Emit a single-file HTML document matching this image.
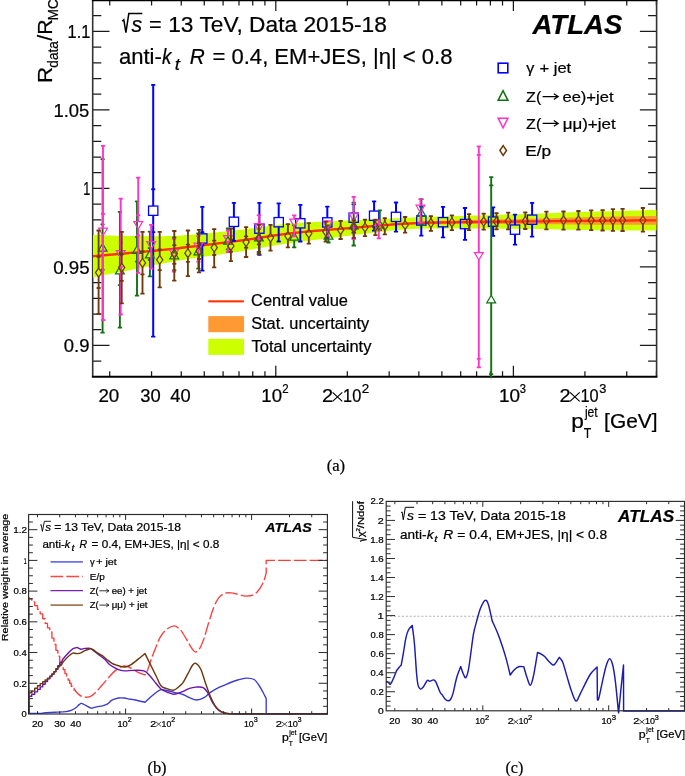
<!DOCTYPE html><html><head><meta charset="utf-8"><style>html,body{margin:0;padding:0;background:#fff;}svg{display:block;font-family:"Liberation Sans",sans-serif;will-change:transform;}text{stroke:#000;stroke-width:0.22px;}</style></head><body>
<svg width="685" height="776" viewBox="0 0 685 776">
<rect width="685" height="776" fill="#fff"/>
<path d="M109.72 376.8v-5.5M109.72 0v5.5M151.56 376.8v-5.5M151.56 0v5.5M181.25 376.8v-5.5M181.25 0v5.5M204.28 376.8v-5.5M204.28 0v5.5M223.09 376.8v-5.5M223.09 0v5.5M239 376.8v-5.5M239 0v5.5M252.77 376.8v-5.5M252.77 0v5.5M264.93 376.8v-5.5M264.93 0v5.5M275.8 376.8v-11M275.8 0v11M347.32 376.8v-5.5M347.32 0v5.5M389.16 376.8v-5.5M389.16 0v5.5M418.85 376.8v-5.5M418.85 0v5.5M441.88 376.8v-5.5M441.88 0v5.5M460.69 376.8v-5.5M460.69 0v5.5M476.6 376.8v-5.5M476.6 0v5.5M490.37 376.8v-5.5M490.37 0v5.5M502.53 376.8v-5.5M502.53 0v5.5M513.4 376.8v-11M513.4 0v11M584.92 376.8v-5.5M584.92 0v5.5M626.76 376.8v-5.5M626.76 0v5.5M656.45 376.8v-5.5M656.45 0v5.5M93 361.1h8.3M656.4 361.1h-8.3M93 345.4h16.5M656.4 345.4h-16.5M93 329.7h8.3M656.4 329.7h-8.3M93 314h8.3M656.4 314h-8.3M93 298.3h8.3M656.4 298.3h-8.3M93 282.6h8.3M656.4 282.6h-8.3M93 266.9h16.5M656.4 266.9h-16.5M93 251.2h8.3M656.4 251.2h-8.3M93 235.5h8.3M656.4 235.5h-8.3M93 219.8h8.3M656.4 219.8h-8.3M93 204.1h8.3M656.4 204.1h-8.3M93 188.4h16.5M656.4 188.4h-16.5M93 172.7h8.3M656.4 172.7h-8.3M93 157h8.3M656.4 157h-8.3M93 141.3h8.3M656.4 141.3h-8.3M93 125.6h8.3M656.4 125.6h-8.3M93 109.9h16.5M656.4 109.9h-16.5M93 94.2h8.3M656.4 94.2h-8.3M93 78.5h8.3M656.4 78.5h-8.3M93 62.8h8.3M656.4 62.8h-8.3M93 47.1h8.3M656.4 47.1h-8.3M93 31.4h16.5M656.4 31.4h-16.5M93 15.7h8.3M656.4 15.7h-8.3" stroke="#1a1a1a" stroke-width="1.25" fill="none"/>
<path d="M92.7 0V376.8 M656.6 0V376.8" stroke="#333" stroke-width="1.6" fill="none"/>
<path d="M91.9 376.8H657.4 M91.9 0.4H657.4" stroke="#000" stroke-width="1.9" fill="none"/>
<clipPath id="ca"><rect x="92.3" y="0" width="564.7" height="375.8"/></clipPath>
<g clip-path="url(#ca)">
<polygon points="93,235 97.69,235.12 102.39,235.24 107.08,235.38 111.78,235.51 116.47,235.65 121.17,235.77 125.86,235.88 130.56,235.98 135.25,236.05 139.95,236.1 144.64,236.14 149.34,236.17 154.03,236.2 158.73,236.2 163.43,236.17 168.12,236.09 172.81,235.95 177.51,235.74 182.2,235.46 186.9,235.12 191.59,234.75 196.29,234.35 200.98,233.93 205.68,233.48 210.38,233 215.07,232.52 219.76,232.01 224.46,231.5 229.16,230.99 233.85,230.47 238.54,229.96 243.24,229.44 247.94,228.87 252.63,228.27 257.32,227.64 262.02,227.01 266.72,226.37 271.41,225.75 276.11,225.15 280.8,224.59 285.5,224.07 290.19,223.62 294.88,223.22 299.58,222.85 304.27,222.53 308.97,222.24 313.66,221.98 318.36,221.74 323.05,221.53 327.75,221.33 332.44,221.14 337.14,220.95 341.83,220.76 346.53,220.56 351.23,220.34 355.92,220.13 360.62,219.93 365.31,219.73 370,219.54 374.7,219.35 379.4,219.15 384.09,218.95 388.78,218.75 393.48,218.53 398.18,218.3 402.87,218.06 407.56,217.82 412.26,217.57 416.95,217.35 421.65,217.15 426.35,216.98 431.04,216.81 435.73,216.66 440.43,216.52 445.12,216.38 449.82,216.25 454.51,216.11 459.21,215.97 463.9,215.83 468.6,215.69 473.3,215.55 477.99,215.41 482.69,215.27 487.38,215.13 492.07,214.99 496.77,214.85 501.46,214.71 506.16,214.57 510.85,214.43 515.55,214.28 520.25,214.14 524.94,213.99 529.63,213.85 534.33,213.7 539.02,213.56 543.72,213.4 548.41,213.24 553.11,213.06 557.81,212.87 562.5,212.68 567.19,212.49 571.89,212.3 576.59,212.12 581.28,211.95 585.98,211.79 590.67,211.64 595.37,211.5 600.06,211.37 604.75,211.25 609.45,211.13 614.14,211.01 618.84,210.89 623.53,210.78 628.23,210.67 632.92,210.56 637.62,210.45 642.32,210.34 647.01,210.23 651.7,210.12 656.4,210 656.4,230.6 651.7,230.56 647.01,230.53 642.32,230.5 637.62,230.47 632.92,230.44 628.23,230.41 623.53,230.37 618.84,230.34 614.14,230.3 609.45,230.27 604.75,230.22 600.06,230.18 595.37,230.13 590.67,230.07 585.98,230 581.28,229.92 576.59,229.83 571.89,229.74 567.19,229.64 562.5,229.53 557.81,229.44 553.11,229.34 548.41,229.25 543.72,229.18 539.02,229.11 534.33,229.05 529.63,229 524.94,228.94 520.25,228.88 515.55,228.83 510.85,228.78 506.16,228.73 501.46,228.68 496.77,228.64 492.07,228.6 487.38,228.57 482.69,228.53 477.99,228.51 473.3,228.48 468.6,228.46 463.9,228.45 459.21,228.44 454.51,228.44 449.82,228.44 445.12,228.44 440.43,228.44 435.73,228.45 431.04,228.48 426.35,228.54 421.65,228.63 416.95,228.78 412.26,228.99 407.56,229.26 402.87,229.59 398.18,229.96 393.48,230.39 388.78,230.87 384.09,231.38 379.4,231.93 374.7,232.5 370,233.08 365.31,233.68 360.62,234.28 355.92,234.87 351.23,235.45 346.53,236.02 341.83,236.59 337.14,237.15 332.44,237.73 327.75,238.3 323.05,238.88 318.36,239.47 313.66,240.06 308.97,240.66 304.27,241.26 299.58,241.88 294.88,242.5 290.19,243.14 285.5,243.81 280.8,244.53 276.11,245.29 271.41,246.07 266.72,246.87 262.02,247.69 257.32,248.5 252.63,249.31 247.94,250.11 243.24,250.88 238.54,251.63 233.85,252.35 229.16,253.05 224.46,253.74 219.76,254.42 215.07,255.1 210.38,255.77 205.68,256.45 200.98,257.13 196.29,257.83 191.59,258.54 186.9,259.28 182.2,260.04 177.51,260.82 172.81,261.66 168.12,262.53 163.43,263.43 158.73,264.36 154.03,265.3 149.34,266.24 144.64,267.18 139.95,268.11 135.25,269.03 130.56,269.95 125.86,270.88 121.17,271.81 116.47,272.74 111.78,273.67 107.08,274.61 102.39,275.54 97.69,276.47 93,277.4" fill="#ccff00"/>
<polygon points="93,255.2 97.69,254.79 102.39,254.39 107.08,253.99 111.78,253.59 116.47,253.19 121.17,252.79 125.86,252.38 130.56,251.96 135.25,251.54 139.95,251.1 144.64,250.66 149.34,250.21 154.03,249.75 158.73,249.28 163.43,248.8 168.12,248.31 172.81,247.81 177.51,247.29 182.2,246.75 186.9,246.21 191.59,245.66 196.29,245.1 200.98,244.54 205.68,243.98 210.38,243.4 215.07,242.82 219.76,242.23 224.46,241.64 229.16,241.04 233.85,240.43 238.54,239.81 243.24,239.18 247.94,238.51 252.63,237.81 257.32,237.1 262.02,236.37 266.72,235.65 271.41,234.93 276.11,234.24 280.8,233.58 285.5,232.97 290.19,232.4 294.88,231.88 299.58,231.38 304.27,230.91 308.97,230.46 313.66,230.03 318.36,229.62 323.05,229.21 327.75,228.82 332.44,228.43 337.14,228.05 341.83,227.66 346.53,227.27 351.23,226.88 355.92,226.48 360.62,226.08 365.31,225.67 370,225.27 374.7,224.87 379.4,224.48 384.09,224.1 388.78,223.73 393.48,223.37 398.18,223.04 402.87,222.71 407.56,222.39 412.26,222.09 416.95,221.81 421.65,221.56 426.35,221.34 431.04,221.15 435.73,220.98 440.43,220.82 445.12,220.68 449.82,220.55 454.51,220.42 459.21,220.3 463.9,220.18 468.6,220.07 473.3,219.96 477.99,219.85 482.69,219.75 487.38,219.65 492.07,219.55 496.77,219.45 501.46,219.35 506.16,219.26 510.85,219.16 515.55,219.06 520.25,218.97 524.94,218.87 529.63,218.76 534.33,218.66 539.02,218.55 543.72,218.43 548.41,218.3 553.11,218.16 557.81,218.01 562.5,217.86 567.19,217.71 571.89,217.56 576.59,217.42 581.28,217.28 585.98,217.16 590.67,217.05 595.37,216.94 600.06,216.85 604.75,216.76 609.45,216.67 614.14,216.59 618.84,216.51 623.53,216.44 628.23,216.36 632.92,216.29 637.62,216.21 642.32,216.14 647.01,216.06 651.7,215.98 656.4,215.9 656.4,224.7 651.7,224.7 647.01,224.7 642.32,224.7 637.62,224.71 632.92,224.71 628.23,224.72 623.53,224.72 618.84,224.72 614.14,224.72 609.45,224.72 604.75,224.71 600.06,224.7 595.37,224.68 590.67,224.66 585.98,224.63 581.28,224.59 576.59,224.54 571.89,224.48 567.19,224.42 562.5,224.35 557.81,224.29 553.11,224.24 548.41,224.19 543.72,224.15 539.02,224.12 534.33,224.1 529.63,224.08 524.94,224.07 520.25,224.06 515.55,224.05 510.85,224.04 506.16,224.04 501.46,224.04 496.77,224.04 492.07,224.04 487.38,224.05 482.69,224.05 477.99,224.06 473.3,224.07 468.6,224.09 463.9,224.1 459.21,224.11 454.51,224.13 449.82,224.14 445.12,224.15 440.43,224.14 435.73,224.13 431.04,224.14 426.35,224.17 421.65,224.23 416.95,224.32 412.26,224.47 407.56,224.68 402.87,224.93 398.18,225.23 393.48,225.55 388.78,225.88 384.09,226.23 379.4,226.6 374.7,226.97 370,227.36 365.31,227.74 360.62,228.14 355.92,228.53 351.23,228.92 346.53,229.3 341.83,229.68 337.14,230.05 332.44,230.43 327.75,230.81 323.05,231.2 318.36,231.6 313.66,232.01 308.97,232.43 304.27,232.88 299.58,233.34 294.88,233.84 290.19,234.36 285.5,234.92 280.8,235.54 276.11,236.19 271.41,236.88 266.72,237.6 262.02,238.32 257.32,239.05 252.63,239.77 247.94,240.47 243.24,241.14 238.54,241.77 233.85,242.39 229.16,243 224.46,243.6 219.76,244.2 215.07,244.79 210.38,245.37 205.68,245.95 200.98,246.52 196.29,247.08 191.59,247.64 186.9,248.19 182.2,248.74 177.51,249.28 172.81,249.8 168.12,250.31 163.43,250.8 158.73,251.28 154.03,251.75 149.34,252.21 144.64,252.66 139.95,253.11 135.25,253.55 130.56,253.97 125.86,254.39 121.17,254.79 116.47,255.2 111.78,255.6 107.08,256 102.39,256.39 97.69,256.79 93,257.2" fill="#ff9933"/>
<polyline points="93,256.2 97.69,255.79 102.39,255.39 107.08,254.99 111.78,254.59 116.47,254.19 121.17,253.79 125.86,253.38 130.56,252.97 135.25,252.54 139.95,252.1 144.64,251.66 149.34,251.21 154.03,250.75 158.73,250.28 163.43,249.8 168.12,249.31 172.81,248.81 177.51,248.28 182.2,247.75 186.9,247.2 191.59,246.65 196.29,246.09 200.98,245.53 205.68,244.96 210.38,244.39 215.07,243.81 219.76,243.22 224.46,242.62 229.16,242.02 233.85,241.41 238.54,240.79 243.24,240.16 247.94,239.49 252.63,238.79 257.32,238.07 262.02,237.35 266.72,236.62 271.41,235.91 276.11,235.22 280.8,234.56 285.5,233.94 290.19,233.38 294.88,232.86 299.58,232.36 304.27,231.89 308.97,231.45 313.66,231.02 318.36,230.61 323.05,230.21 327.75,229.82 332.44,229.43 337.14,229.05 341.83,228.67 346.53,228.29 351.23,227.9 355.92,227.5 360.62,227.11 365.31,226.71 370,226.31 374.7,225.92 379.4,225.54 384.09,225.17 388.78,224.81 393.48,224.46 398.18,224.13 402.87,223.82 407.56,223.54 412.26,223.28 416.95,223.07 421.65,222.89 426.35,222.76 431.04,222.64 435.73,222.56 440.43,222.48 445.12,222.41 449.82,222.35 454.51,222.28 459.21,222.21 463.9,222.14 468.6,222.08 473.3,222.02 477.99,221.96 482.69,221.9 487.38,221.85 492.07,221.8 496.77,221.75 501.46,221.7 506.16,221.65 510.85,221.6 515.55,221.56 520.25,221.51 524.94,221.47 529.63,221.42 534.33,221.38 539.02,221.33 543.72,221.29 548.41,221.24 553.11,221.2 557.81,221.15 562.5,221.11 567.19,221.06 571.89,221.02 576.59,220.98 581.28,220.94 585.98,220.9 590.67,220.85 595.37,220.81 600.06,220.77 604.75,220.73 609.45,220.7 614.14,220.66 618.84,220.62 623.53,220.58 628.23,220.54 632.92,220.5 637.62,220.46 642.32,220.42 647.01,220.38 651.7,220.34 656.4,220.3" fill="none" stroke="#ff3300" stroke-width="2.3"/>
</g>
<clipPath id="ca2"><rect x="93.0" y="0.0" width="563.4" height="378.2"/></clipPath>
<g clip-path="url(#ca2)">
<g stroke="#0000ff" stroke-width="2.0"><line x1="153.2" y1="84.6" x2="153.2" y2="206.05"/><line x1="153.2" y1="215.35" x2="153.2" y2="337"/></g><g fill="#0000ff"><rect x="151.05" y="84" width="4.3" height="1.8" rx="0.5"/><rect x="151.05" y="335.8" width="4.3" height="1.8" rx="0.5"/><rect x="151.1" y="188.36" width="4.2" height="1.8" rx="0.6"/><rect x="151.1" y="231.27" width="4.2" height="1.8" rx="0.6"/></g>
<rect x="148.55" y="206.05" width="9.3" height="9.3" fill="none" stroke="#0000ff" stroke-width="1.3"/>
<g stroke="#0000ff" stroke-width="2.0"><line x1="202.3" y1="206.6" x2="202.3" y2="233.85"/><line x1="202.3" y1="243.15" x2="202.3" y2="270.9"/></g><g fill="#0000ff"><rect x="200.15" y="206" width="4.3" height="1.8" rx="0.5"/><rect x="200.15" y="269.7" width="4.3" height="1.8" rx="0.5"/><rect x="200.2" y="231.22" width="4.2" height="1.8" rx="0.6"/><rect x="200.2" y="244.08" width="4.2" height="1.8" rx="0.6"/></g>
<rect x="197.65" y="233.85" width="9.3" height="9.3" fill="none" stroke="#0000ff" stroke-width="1.3"/>
<g stroke="#0000ff" stroke-width="2.0"><line x1="233.9" y1="202.5" x2="233.9" y2="217.15"/><line x1="233.9" y1="226.45" x2="233.9" y2="241.2"/></g><g fill="#0000ff"><rect x="231.75" y="201.9" width="4.3" height="1.8" rx="0.5"/><rect x="231.75" y="240" width="4.3" height="1.8" rx="0.5"/></g>
<rect x="229.25" y="217.15" width="9.3" height="9.3" fill="none" stroke="#0000ff" stroke-width="1.3"/>
<g stroke="#0000ff" stroke-width="2.0"><line x1="259.4" y1="202.5" x2="259.4" y2="223.95"/><line x1="259.4" y1="233.25" x2="259.4" y2="255.1"/></g><g fill="#0000ff"><rect x="257.25" y="201.9" width="4.3" height="1.8" rx="0.5"/><rect x="257.25" y="253.9" width="4.3" height="1.8" rx="0.5"/></g>
<rect x="254.75" y="223.95" width="9.3" height="9.3" fill="none" stroke="#0000ff" stroke-width="1.3"/>
<g stroke="#0000ff" stroke-width="2.0"><line x1="278.7" y1="203.1" x2="278.7" y2="217.55"/><line x1="278.7" y1="226.85" x2="278.7" y2="241.8"/></g><g fill="#0000ff"><rect x="276.55" y="202.5" width="4.3" height="1.8" rx="0.5"/><rect x="276.55" y="240.6" width="4.3" height="1.8" rx="0.5"/></g>
<rect x="274.05" y="217.55" width="9.3" height="9.3" fill="none" stroke="#0000ff" stroke-width="1.3"/>
<g stroke="#0000ff" stroke-width="2.0"><line x1="300.3" y1="204.6" x2="300.3" y2="218.65"/><line x1="300.3" y1="227.95" x2="300.3" y2="241.8"/></g><g fill="#0000ff"><rect x="298.15" y="204" width="4.3" height="1.8" rx="0.5"/><rect x="298.15" y="240.6" width="4.3" height="1.8" rx="0.5"/></g>
<rect x="295.65" y="218.65" width="9.3" height="9.3" fill="none" stroke="#0000ff" stroke-width="1.3"/>
<g stroke="#0000ff" stroke-width="2.0"><line x1="327.3" y1="206.4" x2="327.3" y2="217.75"/><line x1="327.3" y1="227.05" x2="327.3" y2="238.2"/></g><g fill="#0000ff"><rect x="325.15" y="205.8" width="4.3" height="1.8" rx="0.5"/><rect x="325.15" y="237" width="4.3" height="1.8" rx="0.5"/></g>
<rect x="322.65" y="217.75" width="9.3" height="9.3" fill="none" stroke="#0000ff" stroke-width="1.3"/>
<g stroke="#0000ff" stroke-width="2.0"><line x1="353.7" y1="204" x2="353.7" y2="213.05"/><line x1="353.7" y1="222.35" x2="353.7" y2="233"/></g><g fill="#0000ff"><rect x="351.55" y="203.4" width="4.3" height="1.8" rx="0.5"/><rect x="351.55" y="231.8" width="4.3" height="1.8" rx="0.5"/></g>
<rect x="349.05" y="213.05" width="9.3" height="9.3" fill="none" stroke="#0000ff" stroke-width="1.3"/>
<g stroke="#0000ff" stroke-width="2.0"><line x1="374.1" y1="201.1" x2="374.1" y2="211.05"/><line x1="374.1" y1="220.35" x2="374.1" y2="231"/></g><g fill="#0000ff"><rect x="371.95" y="200.5" width="4.3" height="1.8" rx="0.5"/><rect x="371.95" y="229.8" width="4.3" height="1.8" rx="0.5"/></g>
<rect x="369.45" y="211.05" width="9.3" height="9.3" fill="none" stroke="#0000ff" stroke-width="1.3"/>
<g stroke="#0000ff" stroke-width="2.0"><line x1="396" y1="202.2" x2="396" y2="212.25"/><line x1="396" y1="221.55" x2="396" y2="232"/></g><g fill="#0000ff"><rect x="393.85" y="201.6" width="4.3" height="1.8" rx="0.5"/><rect x="393.85" y="230.8" width="4.3" height="1.8" rx="0.5"/></g>
<rect x="391.35" y="212.25" width="9.3" height="9.3" fill="none" stroke="#0000ff" stroke-width="1.3"/>
<g stroke="#0000ff" stroke-width="2.0"><line x1="421.3" y1="206.2" x2="421.3" y2="215.85"/><line x1="421.3" y1="225.15" x2="421.3" y2="236"/></g><g fill="#0000ff"><rect x="419.15" y="205.6" width="4.3" height="1.8" rx="0.5"/><rect x="419.15" y="234.8" width="4.3" height="1.8" rx="0.5"/></g>
<rect x="416.65" y="215.85" width="9.3" height="9.3" fill="none" stroke="#0000ff" stroke-width="1.3"/>
<g stroke="#0000ff" stroke-width="2.0"><line x1="443" y1="206.6" x2="443" y2="217.55"/><line x1="443" y1="226.85" x2="443" y2="237.7"/></g><g fill="#0000ff"><rect x="440.85" y="206" width="4.3" height="1.8" rx="0.5"/><rect x="440.85" y="236.5" width="4.3" height="1.8" rx="0.5"/></g>
<rect x="438.35" y="217.55" width="9.3" height="9.3" fill="none" stroke="#0000ff" stroke-width="1.3"/>
<g stroke="#0000ff" stroke-width="2.0"><line x1="465" y1="207.7" x2="465" y2="219.45"/><line x1="465" y1="228.75" x2="465" y2="240.1"/></g><g fill="#0000ff"><rect x="462.85" y="207.1" width="4.3" height="1.8" rx="0.5"/><rect x="462.85" y="238.9" width="4.3" height="1.8" rx="0.5"/></g>
<rect x="460.35" y="219.45" width="9.3" height="9.3" fill="none" stroke="#0000ff" stroke-width="1.3"/>
<g stroke="#0000ff" stroke-width="2.0"><line x1="493.1" y1="207" x2="493.1" y2="216.95"/><line x1="493.1" y1="226.25" x2="493.1" y2="236.2"/></g><g fill="#0000ff"><rect x="490.95" y="206.4" width="4.3" height="1.8" rx="0.5"/><rect x="490.95" y="235" width="4.3" height="1.8" rx="0.5"/></g>
<rect x="488.45" y="216.95" width="9.3" height="9.3" fill="none" stroke="#0000ff" stroke-width="1.3"/>
<g stroke="#0000ff" stroke-width="2.0"><line x1="515" y1="214.3" x2="515" y2="224.95"/><line x1="515" y1="234.25" x2="515" y2="245"/></g><g fill="#0000ff"><rect x="512.85" y="213.7" width="4.3" height="1.8" rx="0.5"/><rect x="512.85" y="243.8" width="4.3" height="1.8" rx="0.5"/></g>
<rect x="510.35" y="224.95" width="9.3" height="9.3" fill="none" stroke="#0000ff" stroke-width="1.3"/>
<g stroke="#0000ff" stroke-width="2.0"><line x1="532.1" y1="202.6" x2="532.1" y2="215.05"/><line x1="532.1" y1="224.35" x2="532.1" y2="236.9"/></g><g fill="#0000ff"><rect x="529.95" y="202" width="4.3" height="1.8" rx="0.5"/><rect x="529.95" y="235.7" width="4.3" height="1.8" rx="0.5"/></g>
<rect x="527.45" y="215.05" width="9.3" height="9.3" fill="none" stroke="#0000ff" stroke-width="1.3"/>
<g stroke="#127212" stroke-width="1.9"><line x1="102.6" y1="158.9" x2="102.6" y2="243.5"/><line x1="102.6" y1="251.1" x2="102.6" y2="333"/></g><g fill="#127212"><rect x="100.45" y="158.3" width="4.3" height="1.8" rx="0.5"/><rect x="100.45" y="331.8" width="4.3" height="1.8" rx="0.5"/><rect x="100.5" y="223.42" width="4.2" height="1.8" rx="0.6"/><rect x="100.5" y="268.68" width="4.2" height="1.8" rx="0.6"/></g>
<polygon points="102.6,243.5 107,251.1 98.2,251.1" fill="none" stroke="#127212" stroke-width="1.25" stroke-linejoin="miter"/>
<g stroke="#127212" stroke-width="1.9"><line x1="119.9" y1="211.6" x2="119.9" y2="266.2"/><line x1="119.9" y1="273.8" x2="119.9" y2="328"/></g><g fill="#127212"><rect x="117.75" y="211" width="4.3" height="1.8" rx="0.5"/><rect x="117.75" y="326.8" width="4.3" height="1.8" rx="0.5"/><rect x="117.8" y="253.92" width="4.2" height="1.8" rx="0.6"/><rect x="117.8" y="284.18" width="4.2" height="1.8" rx="0.6"/></g>
<polygon points="119.9,266.2 124.3,273.8 115.5,273.8" fill="none" stroke="#127212" stroke-width="1.25" stroke-linejoin="miter"/>
<g stroke="#127212" stroke-width="1.9"><line x1="137" y1="201" x2="137" y2="245.8"/><line x1="137" y1="253.4" x2="137" y2="296"/></g><g fill="#127212"><rect x="134.85" y="200.4" width="4.3" height="1.8" rx="0.5"/><rect x="134.85" y="294.8" width="4.3" height="1.8" rx="0.5"/><rect x="134.9" y="236.06" width="4.2" height="1.8" rx="0.6"/><rect x="134.9" y="260.76" width="4.2" height="1.8" rx="0.6"/></g>
<polygon points="137,245.8 141.4,253.4 132.6,253.4" fill="none" stroke="#127212" stroke-width="1.25" stroke-linejoin="miter"/>
<g stroke="#127212" stroke-width="1.9"><line x1="149.9" y1="231.4" x2="149.9" y2="250.2"/><line x1="149.9" y1="257.8" x2="149.9" y2="276.6"/></g><g fill="#127212"><rect x="147.75" y="230.8" width="4.3" height="1.8" rx="0.5"/><rect x="147.75" y="275.4" width="4.3" height="1.8" rx="0.5"/><rect x="147.8" y="247.22" width="4.2" height="1.8" rx="0.6"/><rect x="147.8" y="258.98" width="4.2" height="1.8" rx="0.6"/></g>
<polygon points="149.9,250.2 154.3,257.8 145.5,257.8" fill="none" stroke="#127212" stroke-width="1.25" stroke-linejoin="miter"/>
<g stroke="#127212" stroke-width="1.9"><line x1="174.2" y1="237" x2="174.2" y2="251.2"/><line x1="174.2" y1="258.8" x2="174.2" y2="270.4"/></g><g fill="#127212"><rect x="172.05" y="236.4" width="4.3" height="1.8" rx="0.5"/><rect x="172.05" y="269.2" width="4.3" height="1.8" rx="0.5"/></g>
<polygon points="174.2,251.2 178.6,258.8 169.8,258.8" fill="none" stroke="#127212" stroke-width="1.25" stroke-linejoin="miter"/>
<g stroke="#127212" stroke-width="1.9"><line x1="198.4" y1="233" x2="198.4" y2="247.2"/><line x1="198.4" y1="254.8" x2="198.4" y2="269"/></g><g fill="#127212"><rect x="196.25" y="232.4" width="4.3" height="1.8" rx="0.5"/><rect x="196.25" y="267.8" width="4.3" height="1.8" rx="0.5"/></g>
<polygon points="198.4,247.2 202.8,254.8 194,254.8" fill="none" stroke="#127212" stroke-width="1.25" stroke-linejoin="miter"/>
<g stroke="#127212" stroke-width="1.9"><line x1="228" y1="228.2" x2="228" y2="236.6"/><line x1="228" y1="244.2" x2="228" y2="249.6"/></g><g fill="#127212"><rect x="225.85" y="227.6" width="4.3" height="1.8" rx="0.5"/><rect x="225.85" y="248.4" width="4.3" height="1.8" rx="0.5"/></g>
<polygon points="228,236.6 232.4,244.2 223.6,244.2" fill="none" stroke="#127212" stroke-width="1.25" stroke-linejoin="miter"/>
<g stroke="#127212" stroke-width="1.9"><line x1="258.9" y1="228.8" x2="258.9" y2="233.2"/><line x1="258.9" y1="240.8" x2="258.9" y2="252.3"/></g><g fill="#127212"><rect x="256.75" y="228.2" width="4.3" height="1.8" rx="0.5"/><rect x="256.75" y="251.1" width="4.3" height="1.8" rx="0.5"/></g>
<polygon points="258.9,233.2 263.3,240.8 254.5,240.8" fill="none" stroke="#127212" stroke-width="1.25" stroke-linejoin="miter"/>
<g stroke="#127212" stroke-width="1.9"><line x1="294.2" y1="225" x2="294.2" y2="232.6"/><line x1="294.2" y1="240.2" x2="294.2" y2="247.7"/></g><g fill="#127212"><rect x="292.05" y="224.4" width="4.3" height="1.8" rx="0.5"/><rect x="292.05" y="246.5" width="4.3" height="1.8" rx="0.5"/></g>
<polygon points="294.2,232.6 298.6,240.2 289.8,240.2" fill="none" stroke="#127212" stroke-width="1.25" stroke-linejoin="miter"/>
<g stroke="#127212" stroke-width="1.9"><line x1="328.5" y1="225" x2="328.5" y2="231.5"/><line x1="328.5" y1="239.1" x2="328.5" y2="242.8"/></g><g fill="#127212"><rect x="326.35" y="224.4" width="4.3" height="1.8" rx="0.5"/><rect x="326.35" y="241.6" width="4.3" height="1.8" rx="0.5"/></g>
<polygon points="328.5,231.5 332.9,239.1 324.1,239.1" fill="none" stroke="#127212" stroke-width="1.25" stroke-linejoin="miter"/>
<g stroke="#127212" stroke-width="1.9"><line x1="353.7" y1="202.4" x2="353.7" y2="221.2"/><line x1="353.7" y1="228.8" x2="353.7" y2="245.8"/></g><g fill="#127212"><rect x="351.55" y="201.8" width="4.3" height="1.8" rx="0.5"/><rect x="351.55" y="244.6" width="4.3" height="1.8" rx="0.5"/><rect x="351.6" y="218.22" width="4.2" height="1.8" rx="0.6"/><rect x="351.6" y="229.51" width="4.2" height="1.8" rx="0.6"/></g>
<polygon points="353.7,221.2 358.1,228.8 349.3,228.8" fill="none" stroke="#127212" stroke-width="1.25" stroke-linejoin="miter"/>
<g stroke="#127212" stroke-width="1.9"><line x1="379.8" y1="210.1" x2="379.8" y2="220.6"/><line x1="379.8" y1="228.2" x2="379.8" y2="230.3"/></g><g fill="#127212"><rect x="377.65" y="209.5" width="4.3" height="1.8" rx="0.5"/><rect x="377.65" y="229.1" width="4.3" height="1.8" rx="0.5"/></g>
<polygon points="379.8,220.6 384.2,228.2 375.4,228.2" fill="none" stroke="#127212" stroke-width="1.25" stroke-linejoin="miter"/>
<g stroke="#127212" stroke-width="1.9"><line x1="421.4" y1="198.8" x2="421.4" y2="208.7"/><line x1="421.4" y1="216.3" x2="421.4" y2="225"/></g><g fill="#127212"><rect x="419.25" y="198.2" width="4.3" height="1.8" rx="0.5"/><rect x="419.25" y="223.8" width="4.3" height="1.8" rx="0.5"/></g>
<polygon points="421.4,208.7 425.8,216.3 417,216.3" fill="none" stroke="#127212" stroke-width="1.25" stroke-linejoin="miter"/>
<g stroke="#127212" stroke-width="1.9"><line x1="491.2" y1="176.9" x2="491.2" y2="295.2"/><line x1="491.2" y1="302.8" x2="491.2" y2="379.8"/></g><g fill="#127212"><rect x="489.05" y="176.3" width="4.3" height="1.8" rx="0.5"/><rect x="489.1" y="184.55" width="4.2" height="1.8" rx="0.6"/><rect x="489.1" y="373.24" width="4.2" height="1.8" rx="0.6"/></g>
<polygon points="491.2,295.2 495.6,302.8 486.8,302.8" fill="none" stroke="#127212" stroke-width="1.25" stroke-linejoin="miter"/>
<g stroke="#ff33cc" stroke-width="1.9"><line x1="103" y1="145.5" x2="103" y2="228.2"/><line x1="103" y1="235.8" x2="103" y2="320.3"/></g><g fill="#ff33cc"><rect x="100.85" y="144.9" width="4.3" height="1.8" rx="0.5"/><rect x="100.85" y="319.1" width="4.3" height="1.8" rx="0.5"/><rect x="100.9" y="212.94" width="4.2" height="1.8" rx="0.6"/><rect x="100.9" y="249.64" width="4.2" height="1.8" rx="0.6"/></g>
<polygon points="103,235.8 107.4,228.2 98.6,228.2" fill="none" stroke="#ff33cc" stroke-width="1.25" stroke-linejoin="miter"/>
<g stroke="#ff33cc" stroke-width="1.9"><line x1="120.7" y1="198.3" x2="120.7" y2="250.5"/><line x1="120.7" y1="258.1" x2="120.7" y2="314.8"/></g><g fill="#ff33cc"><rect x="118.55" y="197.7" width="4.3" height="1.8" rx="0.5"/><rect x="118.55" y="313.6" width="4.3" height="1.8" rx="0.5"/><rect x="118.6" y="241.64" width="4.2" height="1.8" rx="0.6"/><rect x="118.6" y="266.11" width="4.2" height="1.8" rx="0.6"/></g>
<polygon points="120.7,258.1 125.1,250.5 116.3,250.5" fill="none" stroke="#ff33cc" stroke-width="1.25" stroke-linejoin="miter"/>
<g stroke="#ff33cc" stroke-width="1.9"><line x1="138.2" y1="177.4" x2="138.2" y2="221.5"/><line x1="138.2" y1="229.1" x2="138.2" y2="273.1"/></g><g fill="#ff33cc"><rect x="136.05" y="176.8" width="4.3" height="1.8" rx="0.5"/><rect x="136.05" y="271.9" width="4.3" height="1.8" rx="0.5"/><rect x="136.1" y="214.34" width="4.2" height="1.8" rx="0.6"/><rect x="136.1" y="234.44" width="4.2" height="1.8" rx="0.6"/></g>
<polygon points="138.2,229.1 142.6,221.5 133.8,221.5" fill="none" stroke="#ff33cc" stroke-width="1.25" stroke-linejoin="miter"/>
<g stroke="#ff33cc" stroke-width="1.9"><line x1="151.2" y1="224.6" x2="151.2" y2="241.6"/><line x1="151.2" y1="249.2" x2="151.2" y2="269"/></g><g fill="#ff33cc"><rect x="149.05" y="224" width="4.3" height="1.8" rx="0.5"/><rect x="149.05" y="267.8" width="4.3" height="1.8" rx="0.5"/></g>
<polygon points="151.2,249.2 155.6,241.6 146.8,241.6" fill="none" stroke="#ff33cc" stroke-width="1.25" stroke-linejoin="miter"/>
<g stroke="#ff33cc" stroke-width="1.9"><line x1="174" y1="238.5" x2="174" y2="249.7"/><line x1="174" y1="257.3" x2="174" y2="271.8"/></g><g fill="#ff33cc"><rect x="171.85" y="237.9" width="4.3" height="1.8" rx="0.5"/><rect x="171.85" y="270.6" width="4.3" height="1.8" rx="0.5"/></g>
<polygon points="174,257.3 178.4,249.7 169.6,249.7" fill="none" stroke="#ff33cc" stroke-width="1.25" stroke-linejoin="miter"/>
<g stroke="#ff33cc" stroke-width="1.9"><line x1="198.4" y1="235.7" x2="198.4" y2="243.2"/><line x1="198.4" y1="250.8" x2="198.4" y2="262"/></g><g fill="#ff33cc"><rect x="196.25" y="235.1" width="4.3" height="1.8" rx="0.5"/><rect x="196.25" y="260.8" width="4.3" height="1.8" rx="0.5"/></g>
<polygon points="198.4,250.8 202.8,243.2 194,243.2" fill="none" stroke="#ff33cc" stroke-width="1.25" stroke-linejoin="miter"/>
<g stroke="#ff33cc" stroke-width="1.9"><line x1="228" y1="230.2" x2="228" y2="235.5"/><line x1="228" y1="243.1" x2="228" y2="252.3"/></g><g fill="#ff33cc"><rect x="225.85" y="229.6" width="4.3" height="1.8" rx="0.5"/><rect x="225.85" y="251.1" width="4.3" height="1.8" rx="0.5"/></g>
<polygon points="228,243.1 232.4,235.5 223.6,235.5" fill="none" stroke="#ff33cc" stroke-width="1.25" stroke-linejoin="miter"/>
<g stroke="#ff33cc" stroke-width="1.9"><line x1="258.9" y1="214.9" x2="258.9" y2="223.6"/><line x1="258.9" y1="231.2" x2="258.9" y2="239.9"/></g><g fill="#ff33cc"><rect x="256.75" y="214.3" width="4.3" height="1.8" rx="0.5"/><rect x="256.75" y="238.7" width="4.3" height="1.8" rx="0.5"/></g>
<polygon points="258.9,231.2 263.3,223.6 254.5,223.6" fill="none" stroke="#ff33cc" stroke-width="1.25" stroke-linejoin="miter"/>
<g stroke="#ff33cc" stroke-width="1.9"><line x1="294.2" y1="215.1" x2="294.2" y2="219"/><line x1="294.2" y1="226.6" x2="294.2" y2="236.7"/></g><g fill="#ff33cc"><rect x="292.05" y="214.5" width="4.3" height="1.8" rx="0.5"/><rect x="292.05" y="235.5" width="4.3" height="1.8" rx="0.5"/></g>
<polygon points="294.2,226.6 298.6,219 289.8,219" fill="none" stroke="#ff33cc" stroke-width="1.25" stroke-linejoin="miter"/>
<g stroke="#ff33cc" stroke-width="1.9"><line x1="327.7" y1="221" x2="327.7" y2="221.2"/><line x1="327.7" y1="228.8" x2="327.7" y2="236.7"/></g><g fill="#ff33cc"><rect x="325.55" y="220.4" width="4.3" height="1.8" rx="0.5"/><rect x="325.55" y="235.5" width="4.3" height="1.8" rx="0.5"/></g>
<polygon points="327.7,228.8 332.1,221.2 323.3,221.2" fill="none" stroke="#ff33cc" stroke-width="1.25" stroke-linejoin="miter"/>
<g stroke="#ff33cc" stroke-width="1.9"><line x1="353.7" y1="196.6" x2="353.7" y2="213.6"/><line x1="353.7" y1="221.2" x2="353.7" y2="239.3"/></g><g fill="#ff33cc"><rect x="351.55" y="196" width="4.3" height="1.8" rx="0.5"/><rect x="351.55" y="238.1" width="4.3" height="1.8" rx="0.5"/></g>
<polygon points="353.7,221.2 358.1,213.6 349.3,213.6" fill="none" stroke="#ff33cc" stroke-width="1.25" stroke-linejoin="miter"/>
<g stroke="#ff33cc" stroke-width="1.9"><line x1="378.8" y1="220" x2="378.8" y2="225"/><line x1="378.8" y1="232.6" x2="378.8" y2="238.7"/></g><g fill="#ff33cc"><rect x="376.65" y="219.4" width="4.3" height="1.8" rx="0.5"/><rect x="376.65" y="237.5" width="4.3" height="1.8" rx="0.5"/></g>
<polygon points="378.8,232.6 383.2,225 374.4,225" fill="none" stroke="#ff33cc" stroke-width="1.25" stroke-linejoin="miter"/>
<g stroke="#ff33cc" stroke-width="1.9"><line x1="420.5" y1="198.8" x2="420.5" y2="205.2"/><line x1="420.5" y1="212.8" x2="420.5" y2="222.8"/></g><g fill="#ff33cc"><rect x="418.35" y="198.2" width="4.3" height="1.8" rx="0.5"/><rect x="418.35" y="221.6" width="4.3" height="1.8" rx="0.5"/></g>
<polygon points="420.5,212.8 424.9,205.2 416.1,205.2" fill="none" stroke="#ff33cc" stroke-width="1.25" stroke-linejoin="miter"/>
<g stroke="#ff33cc" stroke-width="1.9"><line x1="478.8" y1="146.1" x2="478.8" y2="252.5"/><line x1="478.8" y1="260.1" x2="478.8" y2="367.7"/></g><g fill="#ff33cc"><rect x="476.65" y="145.5" width="4.3" height="1.8" rx="0.5"/><rect x="476.65" y="366.5" width="4.3" height="1.8" rx="0.5"/><rect x="476.7" y="154.02" width="4.2" height="1.8" rx="0.6"/><rect x="476.7" y="357.89" width="4.2" height="1.8" rx="0.6"/></g>
<polygon points="478.8,260.1 483.2,252.5 474.4,252.5" fill="none" stroke="#ff33cc" stroke-width="1.25" stroke-linejoin="miter"/>
<g stroke="#6e3a0c" stroke-width="1.85"><line x1="98.6" y1="230.2" x2="98.6" y2="268.4"/><line x1="98.6" y1="276.8" x2="98.6" y2="314.2"/></g><g fill="#6e3a0c"><rect x="96.45" y="229.6" width="4.3" height="1.8" rx="0.5"/><rect x="96.45" y="313" width="4.3" height="1.8" rx="0.5"/><rect x="96.5" y="256.01" width="4.2" height="1.8" rx="0.6"/><rect x="96.5" y="287.09" width="4.2" height="1.8" rx="0.6"/></g>
<polygon points="98.6,268.15 101.7,272.6 98.6,277.05 95.5,272.6" fill="none" stroke="#6e3a0c" stroke-width="1.25"/>
<g stroke="#6e3a0c" stroke-width="1.85"><line x1="121.7" y1="231.5" x2="121.7" y2="263.4"/><line x1="121.7" y1="271.8" x2="121.7" y2="303.7"/></g><g fill="#6e3a0c"><rect x="119.55" y="230.9" width="4.3" height="1.8" rx="0.5"/><rect x="119.55" y="302.5" width="4.3" height="1.8" rx="0.5"/><rect x="119.6" y="253.34" width="4.2" height="1.8" rx="0.6"/><rect x="119.6" y="280.06" width="4.2" height="1.8" rx="0.6"/></g>
<polygon points="121.7,263.15 124.8,267.6 121.7,272.05 118.6,267.6" fill="none" stroke="#6e3a0c" stroke-width="1.25"/>
<g stroke="#6e3a0c" stroke-width="1.85"><line x1="142.5" y1="231.5" x2="142.5" y2="258.7"/><line x1="142.5" y1="267.1" x2="142.5" y2="294"/></g><g fill="#6e3a0c"><rect x="140.35" y="230.9" width="4.3" height="1.8" rx="0.5"/><rect x="140.35" y="292.8" width="4.3" height="1.8" rx="0.5"/><rect x="140.4" y="250.38" width="4.2" height="1.8" rx="0.6"/><rect x="140.4" y="273.51" width="4.2" height="1.8" rx="0.6"/></g>
<polygon points="142.5,258.45 145.6,262.9 142.5,267.35 139.4,262.9" fill="none" stroke="#6e3a0c" stroke-width="1.25"/>
<g stroke="#6e3a0c" stroke-width="1.85"><line x1="159.7" y1="231.5" x2="159.7" y2="255.6"/><line x1="159.7" y1="264" x2="159.7" y2="287.6"/></g><g fill="#6e3a0c"><rect x="157.55" y="230.9" width="4.3" height="1.8" rx="0.5"/><rect x="157.55" y="286.4" width="4.3" height="1.8" rx="0.5"/><rect x="157.6" y="248.43" width="4.2" height="1.8" rx="0.6"/><rect x="157.6" y="269.19" width="4.2" height="1.8" rx="0.6"/></g>
<polygon points="159.7,255.35 162.8,259.8 159.7,264.25 156.6,259.8" fill="none" stroke="#6e3a0c" stroke-width="1.25"/>
<g stroke="#6e3a0c" stroke-width="1.85"><line x1="174.3" y1="230.7" x2="174.3" y2="249.5"/><line x1="174.3" y1="257.9" x2="174.3" y2="280.9"/></g><g fill="#6e3a0c"><rect x="172.15" y="230.1" width="4.3" height="1.8" rx="0.5"/><rect x="172.15" y="279.7" width="4.3" height="1.8" rx="0.5"/><rect x="172.2" y="244.29" width="4.2" height="1.8" rx="0.6"/><rect x="172.2" y="262.86" width="4.2" height="1.8" rx="0.6"/></g>
<polygon points="174.3,249.25 177.4,253.7 174.3,258.15 171.2,253.7" fill="none" stroke="#6e3a0c" stroke-width="1.25"/>
<g stroke="#6e3a0c" stroke-width="1.85"><line x1="187.9" y1="230.2" x2="187.9" y2="249"/><line x1="187.9" y1="257.4" x2="187.9" y2="276.5"/></g><g fill="#6e3a0c"><rect x="185.75" y="229.6" width="4.3" height="1.8" rx="0.5"/><rect x="185.75" y="275.3" width="4.3" height="1.8" rx="0.5"/><rect x="185.8" y="243.79" width="4.2" height="1.8" rx="0.6"/><rect x="185.8" y="260.92" width="4.2" height="1.8" rx="0.6"/></g>
<polygon points="187.9,248.75 191,253.2 187.9,257.65 184.8,253.2" fill="none" stroke="#6e3a0c" stroke-width="1.25"/>
<g stroke="#6e3a0c" stroke-width="1.85"><line x1="199" y1="229.6" x2="199" y2="246.8"/><line x1="199" y1="255.2" x2="199" y2="272.6"/></g><g fill="#6e3a0c"><rect x="196.85" y="229" width="4.3" height="1.8" rx="0.5"/><rect x="196.85" y="271.4" width="4.3" height="1.8" rx="0.5"/><rect x="196.9" y="242.18" width="4.2" height="1.8" rx="0.6"/><rect x="196.9" y="258.09" width="4.2" height="1.8" rx="0.6"/></g>
<polygon points="199,246.55 202.1,251 199,255.45 195.9,251" fill="none" stroke="#6e3a0c" stroke-width="1.25"/>
<g stroke="#6e3a0c" stroke-width="1.85"><line x1="214.2" y1="228.8" x2="214.2" y2="243.4"/><line x1="214.2" y1="251.8" x2="214.2" y2="267.6"/></g><g fill="#6e3a0c"><rect x="212.05" y="228.2" width="4.3" height="1.8" rx="0.5"/><rect x="212.05" y="266.4" width="4.3" height="1.8" rx="0.5"/><rect x="212.1" y="239.74" width="4.2" height="1.8" rx="0.6"/><rect x="212.1" y="254.1" width="4.2" height="1.8" rx="0.6"/></g>
<polygon points="214.2,243.15 217.3,247.6 214.2,252.05 211.1,247.6" fill="none" stroke="#6e3a0c" stroke-width="1.25"/>
<g stroke="#6e3a0c" stroke-width="1.85"><line x1="230.9" y1="228.2" x2="230.9" y2="241.8"/><line x1="230.9" y1="250.2" x2="230.9" y2="261.5"/></g><g fill="#6e3a0c"><rect x="228.75" y="227.6" width="4.3" height="1.8" rx="0.5"/><rect x="228.75" y="260.3" width="4.3" height="1.8" rx="0.5"/><rect x="228.8" y="238.51" width="4.2" height="1.8" rx="0.6"/><rect x="228.8" y="250.84" width="4.2" height="1.8" rx="0.6"/></g>
<polygon points="230.9,241.55 234,246 230.9,250.45 227.8,246" fill="none" stroke="#6e3a0c" stroke-width="1.25"/>
<g stroke="#6e3a0c" stroke-width="1.85"><line x1="246.1" y1="226.8" x2="246.1" y2="237.9"/><line x1="246.1" y1="246.3" x2="246.1" y2="257.3"/></g><g fill="#6e3a0c"><rect x="243.95" y="226.2" width="4.3" height="1.8" rx="0.5"/><rect x="243.95" y="256.1" width="4.3" height="1.8" rx="0.5"/><rect x="244" y="235.54" width="4.2" height="1.8" rx="0.6"/><rect x="244" y="246.82" width="4.2" height="1.8" rx="0.6"/></g>
<polygon points="246.1,237.65 249.2,242.1 246.1,246.55 243,242.1" fill="none" stroke="#6e3a0c" stroke-width="1.25"/>
<g stroke="#6e3a0c" stroke-width="1.85"><line x1="258.9" y1="224.6" x2="258.9" y2="234.3"/><line x1="258.9" y1="242.7" x2="258.9" y2="254.3"/></g><g fill="#6e3a0c"><rect x="256.75" y="224" width="4.3" height="1.8" rx="0.5"/><rect x="256.75" y="253.1" width="4.3" height="1.8" rx="0.5"/><rect x="256.8" y="243.45" width="4.2" height="1.8" rx="0.6"/></g>
<polygon points="258.9,234.05 262,238.5 258.9,242.95 255.8,238.5" fill="none" stroke="#6e3a0c" stroke-width="1.25"/>
<g stroke="#6e3a0c" stroke-width="1.85"><line x1="270.5" y1="224.6" x2="270.5" y2="233.4"/><line x1="270.5" y1="241.8" x2="270.5" y2="251"/></g><g fill="#6e3a0c"><rect x="268.35" y="224" width="4.3" height="1.8" rx="0.5"/><rect x="268.35" y="249.8" width="4.3" height="1.8" rx="0.5"/></g>
<polygon points="270.5,233.15 273.6,237.6 270.5,242.05 267.4,237.6" fill="none" stroke="#6e3a0c" stroke-width="1.25"/>
<g stroke="#6e3a0c" stroke-width="1.85"><line x1="287.9" y1="223.9" x2="287.9" y2="231.8"/><line x1="287.9" y1="240.2" x2="287.9" y2="247.7"/></g><g fill="#6e3a0c"><rect x="285.75" y="223.3" width="4.3" height="1.8" rx="0.5"/><rect x="285.75" y="246.5" width="4.3" height="1.8" rx="0.5"/></g>
<polygon points="287.9,231.55 291,236 287.9,240.45 284.8,236" fill="none" stroke="#6e3a0c" stroke-width="1.25"/>
<g stroke="#6e3a0c" stroke-width="1.85"><line x1="308.8" y1="222.8" x2="308.8" y2="229.3"/><line x1="308.8" y1="237.7" x2="308.8" y2="244"/></g><g fill="#6e3a0c"><rect x="306.65" y="222.2" width="4.3" height="1.8" rx="0.5"/><rect x="306.65" y="242.8" width="4.3" height="1.8" rx="0.5"/></g>
<polygon points="308.8,229.05 311.9,233.5 308.8,237.95 305.7,233.5" fill="none" stroke="#6e3a0c" stroke-width="1.25"/>
<g stroke="#6e3a0c" stroke-width="1.85"><line x1="325.8" y1="221.4" x2="325.8" y2="227.4"/><line x1="325.8" y1="235.8" x2="325.8" y2="241.8"/></g><g fill="#6e3a0c"><rect x="323.65" y="220.8" width="4.3" height="1.8" rx="0.5"/><rect x="323.65" y="240.6" width="4.3" height="1.8" rx="0.5"/></g>
<polygon points="325.8,227.15 328.9,231.6 325.8,236.05 322.7,231.6" fill="none" stroke="#6e3a0c" stroke-width="1.25"/>
<g stroke="#6e3a0c" stroke-width="1.85"><line x1="340.6" y1="220.7" x2="340.6" y2="225.9"/><line x1="340.6" y1="234.3" x2="340.6" y2="239.3"/></g><g fill="#6e3a0c"><rect x="338.45" y="220.1" width="4.3" height="1.8" rx="0.5"/><rect x="338.45" y="238.1" width="4.3" height="1.8" rx="0.5"/></g>
<polygon points="340.6,225.65 343.7,230.1 340.6,234.55 337.5,230.1" fill="none" stroke="#6e3a0c" stroke-width="1.25"/>
<g stroke="#6e3a0c" stroke-width="1.85"><line x1="353.8" y1="220" x2="353.8" y2="224"/><line x1="353.8" y1="232.4" x2="353.8" y2="238.2"/></g><g fill="#6e3a0c"><rect x="351.65" y="219.4" width="4.3" height="1.8" rx="0.5"/><rect x="351.65" y="237" width="4.3" height="1.8" rx="0.5"/></g>
<polygon points="353.8,223.75 356.9,228.2 353.8,232.65 350.7,228.2" fill="none" stroke="#6e3a0c" stroke-width="1.25"/>
<g stroke="#6e3a0c" stroke-width="1.85"><line x1="365" y1="219.3" x2="365" y2="223.3"/><line x1="365" y1="231.7" x2="365" y2="236.4"/></g><g fill="#6e3a0c"><rect x="362.85" y="218.7" width="4.3" height="1.8" rx="0.5"/><rect x="362.85" y="235.2" width="4.3" height="1.8" rx="0.5"/></g>
<polygon points="365,223.05 368.1,227.5 365,231.95 361.9,227.5" fill="none" stroke="#6e3a0c" stroke-width="1.25"/>
<g stroke="#6e3a0c" stroke-width="1.85"><line x1="375.4" y1="219.3" x2="375.4" y2="222.4"/><line x1="375.4" y1="230.8" x2="375.4" y2="235.4"/></g><g fill="#6e3a0c"><rect x="373.25" y="218.7" width="4.3" height="1.8" rx="0.5"/><rect x="373.25" y="234.2" width="4.3" height="1.8" rx="0.5"/></g>
<polygon points="375.4,222.15 378.5,226.6 375.4,231.05 372.3,226.6" fill="none" stroke="#6e3a0c" stroke-width="1.25"/>
<g stroke="#6e3a0c" stroke-width="1.85"><line x1="384.8" y1="217.8" x2="384.8" y2="221.7"/><line x1="384.8" y1="230.1" x2="384.8" y2="234.6"/></g><g fill="#6e3a0c"><rect x="382.65" y="217.2" width="4.3" height="1.8" rx="0.5"/><rect x="382.65" y="233.4" width="4.3" height="1.8" rx="0.5"/></g>
<polygon points="384.8,221.45 387.9,225.9 384.8,230.35 381.7,225.9" fill="none" stroke="#6e3a0c" stroke-width="1.25"/>
<g stroke="#6e3a0c" stroke-width="1.85"><line x1="405.1" y1="216.7" x2="405.1" y2="220.8"/><line x1="405.1" y1="229.2" x2="405.1" y2="232.9"/></g><g fill="#6e3a0c"><rect x="402.95" y="216.1" width="4.3" height="1.8" rx="0.5"/><rect x="402.95" y="231.7" width="4.3" height="1.8" rx="0.5"/></g>
<polygon points="405.1,220.55 408.2,225 405.1,229.45 402,225" fill="none" stroke="#6e3a0c" stroke-width="1.25"/>
<g stroke="#6e3a0c" stroke-width="1.85"><line x1="430.9" y1="215.8" x2="430.9" y2="218.9"/><line x1="430.9" y1="227.3" x2="430.9" y2="231.2"/></g><g fill="#6e3a0c"><rect x="428.75" y="215.2" width="4.3" height="1.8" rx="0.5"/><rect x="428.75" y="230" width="4.3" height="1.8" rx="0.5"/></g>
<polygon points="430.9,218.65 434,223.1 430.9,227.55 427.8,223.1" fill="none" stroke="#6e3a0c" stroke-width="1.25"/>
<g stroke="#6e3a0c" stroke-width="1.85"><line x1="451.9" y1="215" x2="451.9" y2="218.2"/><line x1="451.9" y1="226.6" x2="451.9" y2="230.5"/></g><g fill="#6e3a0c"><rect x="449.75" y="214.4" width="4.3" height="1.8" rx="0.5"/><rect x="449.75" y="229.3" width="4.3" height="1.8" rx="0.5"/></g>
<polygon points="451.9,217.95 455,222.4 451.9,226.85 448.8,222.4" fill="none" stroke="#6e3a0c" stroke-width="1.25"/>
<g stroke="#6e3a0c" stroke-width="1.85"><line x1="469.1" y1="213.9" x2="469.1" y2="217.8"/><line x1="469.1" y1="226.2" x2="469.1" y2="230.4"/></g><g fill="#6e3a0c"><rect x="466.95" y="213.3" width="4.3" height="1.8" rx="0.5"/><rect x="466.95" y="229.2" width="4.3" height="1.8" rx="0.5"/></g>
<polygon points="469.1,217.55 472.2,222 469.1,226.45 466,222" fill="none" stroke="#6e3a0c" stroke-width="1.25"/>
<g stroke="#6e3a0c" stroke-width="1.85"><line x1="483.7" y1="213.3" x2="483.7" y2="217.4"/><line x1="483.7" y1="225.8" x2="483.7" y2="229.9"/></g><g fill="#6e3a0c"><rect x="481.55" y="212.7" width="4.3" height="1.8" rx="0.5"/><rect x="481.55" y="228.7" width="4.3" height="1.8" rx="0.5"/></g>
<polygon points="483.7,217.15 486.8,221.6 483.7,226.05 480.6,221.6" fill="none" stroke="#6e3a0c" stroke-width="1.25"/>
<g stroke="#6e3a0c" stroke-width="1.85"><line x1="496.5" y1="212.8" x2="496.5" y2="217.4"/><line x1="496.5" y1="225.8" x2="496.5" y2="229.6"/></g><g fill="#6e3a0c"><rect x="494.35" y="212.2" width="4.3" height="1.8" rx="0.5"/><rect x="494.35" y="228.4" width="4.3" height="1.8" rx="0.5"/></g>
<polygon points="496.5,217.15 499.6,221.6 496.5,226.05 493.4,221.6" fill="none" stroke="#6e3a0c" stroke-width="1.25"/>
<g stroke="#6e3a0c" stroke-width="1.85"><line x1="508.2" y1="212.4" x2="508.2" y2="217"/><line x1="508.2" y1="225.4" x2="508.2" y2="229.6"/></g><g fill="#6e3a0c"><rect x="506.05" y="211.8" width="4.3" height="1.8" rx="0.5"/><rect x="506.05" y="228.4" width="4.3" height="1.8" rx="0.5"/></g>
<polygon points="508.2,216.75 511.3,221.2 508.2,225.65 505.1,221.2" fill="none" stroke="#6e3a0c" stroke-width="1.25"/>
<g stroke="#6e3a0c" stroke-width="1.85"><line x1="525.3" y1="212.1" x2="525.3" y2="216.7"/><line x1="525.3" y1="225.1" x2="525.3" y2="229.3"/></g><g fill="#6e3a0c"><rect x="523.15" y="211.5" width="4.3" height="1.8" rx="0.5"/><rect x="523.15" y="228.1" width="4.3" height="1.8" rx="0.5"/></g>
<polygon points="525.3,216.45 528.4,220.9 525.3,225.35 522.2,220.9" fill="none" stroke="#6e3a0c" stroke-width="1.25"/>
<g stroke="#6e3a0c" stroke-width="1.85"><line x1="546.4" y1="211.4" x2="546.4" y2="216.4"/><line x1="546.4" y1="224.8" x2="546.4" y2="229.6"/></g><g fill="#6e3a0c"><rect x="544.25" y="210.8" width="4.3" height="1.8" rx="0.5"/><rect x="544.25" y="228.4" width="4.3" height="1.8" rx="0.5"/></g>
<polygon points="546.4,216.15 549.5,220.6 546.4,225.05 543.3,220.6" fill="none" stroke="#6e3a0c" stroke-width="1.25"/>
<g stroke="#6e3a0c" stroke-width="1.85"><line x1="563.5" y1="211.2" x2="563.5" y2="216.1"/><line x1="563.5" y1="224.5" x2="563.5" y2="229.9"/></g><g fill="#6e3a0c"><rect x="561.35" y="210.6" width="4.3" height="1.8" rx="0.5"/><rect x="561.35" y="228.7" width="4.3" height="1.8" rx="0.5"/></g>
<polygon points="563.5,215.85 566.6,220.3 563.5,224.75 560.4,220.3" fill="none" stroke="#6e3a0c" stroke-width="1.25"/>
<g stroke="#6e3a0c" stroke-width="1.85"><line x1="578.4" y1="210.7" x2="578.4" y2="216.1"/><line x1="578.4" y1="224.5" x2="578.4" y2="229.9"/></g><g fill="#6e3a0c"><rect x="576.25" y="210.1" width="4.3" height="1.8" rx="0.5"/><rect x="576.25" y="228.7" width="4.3" height="1.8" rx="0.5"/></g>
<polygon points="578.4,215.85 581.5,220.3 578.4,224.75 575.3,220.3" fill="none" stroke="#6e3a0c" stroke-width="1.25"/>
<g stroke="#6e3a0c" stroke-width="1.85"><line x1="591.2" y1="210.1" x2="591.2" y2="216.1"/><line x1="591.2" y1="224.5" x2="591.2" y2="230.5"/></g><g fill="#6e3a0c"><rect x="589.05" y="209.5" width="4.3" height="1.8" rx="0.5"/><rect x="589.05" y="229.3" width="4.3" height="1.8" rx="0.5"/></g>
<polygon points="591.2,215.85 594.3,220.3 591.2,224.75 588.1,220.3" fill="none" stroke="#6e3a0c" stroke-width="1.25"/>
<g stroke="#6e3a0c" stroke-width="1.85"><line x1="602.6" y1="209.8" x2="602.6" y2="216.1"/><line x1="602.6" y1="224.5" x2="602.6" y2="230.8"/></g><g fill="#6e3a0c"><rect x="600.45" y="209.2" width="4.3" height="1.8" rx="0.5"/><rect x="600.45" y="229.6" width="4.3" height="1.8" rx="0.5"/></g>
<polygon points="602.6,215.85 605.7,220.3 602.6,224.75 599.5,220.3" fill="none" stroke="#6e3a0c" stroke-width="1.25"/>
<g stroke="#6e3a0c" stroke-width="1.85"><line x1="612.9" y1="208.9" x2="612.9" y2="216.1"/><line x1="612.9" y1="224.5" x2="612.9" y2="231.2"/></g><g fill="#6e3a0c"><rect x="610.75" y="208.3" width="4.3" height="1.8" rx="0.5"/><rect x="610.75" y="230" width="4.3" height="1.8" rx="0.5"/></g>
<polygon points="612.9,215.85 616,220.3 612.9,224.75 609.8,220.3" fill="none" stroke="#6e3a0c" stroke-width="1.25"/>
<g stroke="#6e3a0c" stroke-width="1.85"><line x1="622.6" y1="208.6" x2="622.6" y2="216.1"/><line x1="622.6" y1="224.5" x2="622.6" y2="231.3"/></g><g fill="#6e3a0c"><rect x="620.45" y="208" width="4.3" height="1.8" rx="0.5"/><rect x="620.45" y="230.1" width="4.3" height="1.8" rx="0.5"/></g>
<polygon points="622.6,215.85 625.7,220.3 622.6,224.75 619.5,220.3" fill="none" stroke="#6e3a0c" stroke-width="1.25"/>
<g stroke="#6e3a0c" stroke-width="1.85"><line x1="642.9" y1="207.7" x2="642.9" y2="216.1"/><line x1="642.9" y1="224.5" x2="642.9" y2="231.9"/></g><g fill="#6e3a0c"><rect x="640.75" y="207.1" width="4.3" height="1.8" rx="0.5"/><rect x="640.75" y="230.7" width="4.3" height="1.8" rx="0.5"/></g>
<polygon points="642.9,215.85 646,220.3 642.9,224.75 639.8,220.3" fill="none" stroke="#6e3a0c" stroke-width="1.25"/>
</g>
<text x="67.58" y="38" font-size="18.2" fill="#000" textLength="22.66" lengthAdjust="spacingAndGlyphs">1.1</text>
<text x="53.52" y="116.5" font-size="18.2" fill="#000" textLength="35.84" lengthAdjust="spacingAndGlyphs">1.05</text>
<text x="83.25" y="195" font-size="18.2" fill="#000" textLength="7.03" lengthAdjust="spacingAndGlyphs">1</text>
<text x="53.15" y="273.5" font-size="18.2" fill="#000" textLength="36.42" lengthAdjust="spacingAndGlyphs">0.95</text>
<text x="63.76" y="352" font-size="18.2" fill="#000" textLength="25.67" lengthAdjust="spacingAndGlyphs">0.9</text>
<text x="98.46" y="401.6" font-size="18" fill="#000" textLength="20.84" lengthAdjust="spacingAndGlyphs">20</text>
<text x="140.27" y="401.6" font-size="18" fill="#000" textLength="20.42" lengthAdjust="spacingAndGlyphs">30</text>
<text x="170.23" y="401.6" font-size="18" fill="#000" textLength="20.35" lengthAdjust="spacingAndGlyphs">40</text>
<text x="261.31" y="401.6" font-size="18" fill="#000" textLength="20.69" lengthAdjust="spacingAndGlyphs">10</text><text x="282.13" y="392.6" font-size="12.5" fill="#000" textLength="6.36" lengthAdjust="spacingAndGlyphs">2</text>
<text x="322" y="401.6" font-size="18" fill="#000" textLength="11.12" lengthAdjust="spacingAndGlyphs">2</text><path d="M332.6 392.4L342.3 401.3M342.3 392.4L332.6 401.3" stroke="#000" stroke-width="1.15" fill="none"/><text x="343.08" y="401.6" font-size="18" fill="#000" textLength="18.13" lengthAdjust="spacingAndGlyphs">10</text><text x="361.83" y="393.4" font-size="12.5" fill="#000" textLength="7.46" lengthAdjust="spacingAndGlyphs">2</text>
<text x="499.08" y="401.6" font-size="18" fill="#000" textLength="21.02" lengthAdjust="spacingAndGlyphs">10</text><text x="519.75" y="392.6" font-size="12.5" fill="#000" textLength="6.21" lengthAdjust="spacingAndGlyphs">3</text>
<text x="559.4" y="401.6" font-size="18" fill="#000" textLength="11.12" lengthAdjust="spacingAndGlyphs">2</text><path d="M570 392.4L579.7 401.3M579.7 392.4L570 401.3" stroke="#000" stroke-width="1.15" fill="none"/><text x="580.48" y="401.6" font-size="18" fill="#000" textLength="18.13" lengthAdjust="spacingAndGlyphs">10</text><text x="599.39" y="393.4" font-size="12.5" fill="#000" textLength="7.14" lengthAdjust="spacingAndGlyphs">3</text>
<g transform="translate(52.2,81.3) rotate(-90)"><text x="-1.79" y="0" font-size="20.5" fill="#000" textLength="16.14" lengthAdjust="spacingAndGlyphs">R</text><text x="13.66" y="5.3" font-size="14.5" fill="#000" textLength="26.36" lengthAdjust="spacingAndGlyphs">data</text><text x="40.6" y="0" font-size="20.5" fill="#000" textLength="21.36" lengthAdjust="spacingAndGlyphs">/R</text><text x="61.13" y="5.3" font-size="14.5" fill="#000" textLength="20.84" lengthAdjust="spacingAndGlyphs">MC</text></g>
<text x="571.33" y="428.3" font-size="20" fill="#000" textLength="12.61" lengthAdjust="spacingAndGlyphs">p</text>
<text x="584.9" y="417.3" font-size="14" fill="#000" textLength="12.87" lengthAdjust="spacingAndGlyphs">jet</text>
<text x="583.75" y="437.6" font-size="14" fill="#000" textLength="7.5" lengthAdjust="spacingAndGlyphs">T</text>
<text x="604.14" y="428.3" font-size="20" fill="#000" textLength="53.36" lengthAdjust="spacingAndGlyphs">[GeV]</text>
<path d="M122.2 21.3 L123.8 19.8 L125.9 32.6 L128.8 13.6 L142.3 13.6" fill="none" stroke="#000" stroke-width="1.5"/>
<text x="131.49" y="31.6" font-size="22" fill="#000" font-style="italic" textLength="10.63" lengthAdjust="spacingAndGlyphs">s</text>
<text x="148.92" y="31.6" font-size="22" fill="#000" textLength="12.64" lengthAdjust="spacingAndGlyphs">=</text>
<text x="168.19" y="31.6" font-size="22" fill="#000" textLength="218.7" lengthAdjust="spacingAndGlyphs">13 TeV, Data 2015-18</text>
<text x="119.02" y="63.8" font-size="22" fill="#000">anti-</text>
<text x="162.02" y="63.8" font-size="22" fill="#000" font-style="italic" textLength="9.43" lengthAdjust="spacingAndGlyphs">k</text>
<text x="174.65" y="69.8" font-size="16.5" fill="#000" font-style="italic" textLength="5.25" lengthAdjust="spacingAndGlyphs">t</text>
<text x="189.68" y="63.8" font-size="22" fill="#000" font-style="italic" textLength="14.99" lengthAdjust="spacingAndGlyphs">R</text>
<text x="212.5" y="63.8" font-size="22" fill="#000" textLength="239.92" lengthAdjust="spacingAndGlyphs">= 0.4, EM+JES, |η| &lt; 0.8</text>
<text x="532.45" y="34.3" font-size="28.5" fill="#000" font-style="italic" font-weight="bold" textLength="89.93" lengthAdjust="spacingAndGlyphs">ATLAS</text>
<rect x="498.2" y="63.2" width="9.6" height="9.6" fill="none" stroke="#0000ff" stroke-width="1.6"/>
<polygon points="503,90.7 507.9,100.3 498.1,100.3" fill="none" stroke="#127212" stroke-width="1.5" stroke-linejoin="miter"/>
<polygon points="503,127.8 507.9,118.2 498.1,118.2" fill="none" stroke="#ff33cc" stroke-width="1.5" stroke-linejoin="miter"/>
<polygon points="503.2,145.6 506.5,150.5 503.2,155.4 499.9,150.5" fill="none" stroke="#6e3a0c" stroke-width="1.5"/>
<text x="526.22" y="73.4" font-size="15.2" fill="#000" textLength="8.06" lengthAdjust="spacingAndGlyphs">γ</text>
<text x="539.47" y="73.4" font-size="15.2" fill="#000" textLength="31.76" lengthAdjust="spacingAndGlyphs">+ jet</text>
<text x="526.12" y="101.8" font-size="15.2" fill="#000" textLength="15.23" lengthAdjust="spacingAndGlyphs">Z(</text>
<path d="M542.6 96.6H557.6 M553.8 93.8L558.2 96.6L553.8 99.4" fill="none" stroke="#000" stroke-width="1.2"/>
<text x="526.12" y="128.6" font-size="15.2" fill="#000" textLength="15.23" lengthAdjust="spacingAndGlyphs">Z(</text>
<path d="M542.6 123.4H557.6 M553.8 120.6L558.2 123.4L553.8 126.2" fill="none" stroke="#000" stroke-width="1.2"/>
<text x="562.44" y="101.8" font-size="15.2" fill="#000" textLength="51.05" lengthAdjust="spacingAndGlyphs">ee)+jet</text>
<text x="562.7" y="128.6" font-size="15.2" fill="#000" textLength="53" lengthAdjust="spacingAndGlyphs">μμ)+jet</text>
<text x="525.32" y="156.3" font-size="15.2" fill="#000" textLength="25.89" lengthAdjust="spacingAndGlyphs">E/p</text>
<rect x="208.3" y="300.3" width="35.5" height="2.1" fill="#ff3300"/>
<rect x="208.3" y="316.1" width="35.8" height="16.1" fill="#ff9933"/>
<rect x="208.3" y="338.8" width="35.8" height="16.1" fill="#ccff00"/>
<text x="251.08" y="305.5" font-size="16" fill="#000" textLength="96.9" lengthAdjust="spacingAndGlyphs">Central value</text>
<text x="251.16" y="328.5" font-size="16" fill="#000" textLength="118.05" lengthAdjust="spacingAndGlyphs">Stat. uncertainty</text>
<text x="251.57" y="351.6" font-size="16" fill="#000" textLength="119.86" lengthAdjust="spacingAndGlyphs">Total uncertainty</text>
<text x="326.65" y="471.3" font-size="16" fill="#000" font-family="Liberation Serif" textLength="18.5" lengthAdjust="spacingAndGlyphs">(a)</text>
<clipPath id="cb"><rect x="27.6" y="514.5" width="300.3" height="200.3"/></clipPath>
<g clip-path="url(#cb)" fill="none" stroke-linejoin="round">
<path d="M28.6 713.4H41.9C45.03 712.53 53.3 712.37 57.2 712.2C61.1 712.03 63.57 711.95 66 711.6C68.43 711.25 70.1 710.78 71.8 710.1C73.5 709.42 74.98 708.42 76.2 707.5C77.42 706.58 78.18 705.28 79.1 704.6C80.02 703.92 80.48 703.2 81.7 703.4C82.92 703.6 84.77 705 86.4 705.8C88.03 706.6 89.8 708.03 91.5 708.2C93.2 708.37 94.77 707.2 96.6 706.8C98.43 706.4 100.67 706.28 102.5 705.8C104.33 705.32 106.03 704.83 107.6 703.9C109.17 702.97 110.08 701.18 111.9 700.2C113.72 699.22 116.42 698.37 118.5 698C120.58 697.63 122.82 697.85 124.4 698C125.98 698.15 126.18 698.57 128 698.9C129.82 699.23 132.47 699.43 135.3 700C138.13 700.57 143.38 701.92 145 702.3C146.38 701.05 150.63 696.9 153.3 694.8C155.97 692.7 158.42 690.33 161 689.7C163.58 689.07 166.3 690.48 168.8 691C171.3 691.52 173.63 692.22 176 692.8C178.37 693.38 180.75 693.68 183 694.5C185.25 695.32 187.22 696.78 189.5 697.7C191.78 698.62 194.28 700 196.7 700C199.12 700 201.72 698.97 204 697.7C206.28 696.43 207.98 694.08 210.4 692.4C212.82 690.72 215.53 689.08 218.5 687.6C221.47 686.12 224.98 684.77 228.2 683.5C231.42 682.23 234.82 680.9 237.8 680C240.78 679.1 243.38 678.18 246.1 678.1C248.82 678.02 251.93 678.27 254.1 679.5C256.27 680.73 257.6 683.33 259.1 685.5C260.6 687.67 261.92 690.32 263.1 692.5C264.28 694.68 265.68 697.58 266.2 698.6L266.2 713.6H328" stroke="#3a3ad4" stroke-width="1.35"/>
<path d="M28.9 714V597.3L28.64 598.73L31.76 598.73L31.76 601.91L34.72 601.91L34.72 605.56L37.53 605.56L37.53 609.43L40.2 609.43L40.2 613.83L42.75 613.83L42.75 618.72L45.18 618.72L45.18 623.44L47.51 623.44L47.51 627.82L49.74 627.82L49.74 631.98L51.89 631.98L51.89 638.08L53.95 638.08L53.95 644.46L55.94 644.46L55.94 650.32L57.86 650.32L57.86 656.17L59.72 656.17L59.72 661.4L61.51 661.4L61.51 665.63L63.25 665.63L63.25 669.63L64.93 669.63L64.93 673.59L66.57 673.59L66.57 677.09L68.15 677.09L68.15 680.17L69.69 680.17L69.69 683.29L71.19 683.29L71.19 686.28L72.65 686.28L72.65 688.39L74.07 688.39L74.07 690.18L75.46 690.18L75.4 691C78.87 694.93 80.73 696.17 82.2 696.6C83.67 697.03 85.52 697.27 87 697.2C88.48 697.13 89.62 697.03 91.1 696.2C92.58 695.37 94.17 693.93 95.9 692.2C97.63 690.47 99.63 687.93 101.5 685.8C103.37 683.67 105.35 681.42 107.1 679.4C108.85 677.38 110.25 675.45 112 673.7C113.75 671.95 115.73 670.17 117.6 668.9C119.47 667.63 121.53 666.5 123.2 666.1C124.87 665.7 126.02 666 127.6 666.5C129.18 667 130.77 668.03 132.7 669.1C134.63 670.17 137.15 671.93 139.2 672.9C141.25 673.87 144.03 674.57 145 674.9C145.42 674.15 146.43 673.08 147.5 670.4C148.57 667.72 150 662.67 151.4 658.8C152.8 654.93 154.4 650.85 155.9 647.2C157.4 643.55 158.68 639.8 160.4 636.9C162.12 634 163.95 631.63 166.2 629.8C168.45 627.97 171.68 626.03 173.9 625.9C176.12 625.77 177.98 627.73 179.5 629C181.02 630.27 181.62 631.4 183 633.5C184.38 635.6 186.18 638.9 187.8 641.6C189.42 644.3 191.35 647.95 192.7 649.7C194.05 651.45 194.7 652.37 195.9 652.1C197.1 651.83 198.55 650.38 199.9 648.1C201.25 645.82 202.52 642.7 204 638.4C205.48 634.1 207.2 627.42 208.8 622.3C210.4 617.18 211.98 611.73 213.6 607.7C215.22 603.67 216.62 600.52 218.5 598.1C220.38 595.68 222.75 594.07 224.9 593.2C227.05 592.33 229.38 592.77 231.4 592.9C233.42 593.03 234.55 593.47 237 594C239.45 594.53 243.25 596.02 246.1 596.1C248.95 596.18 251.77 595.83 254.1 594.5C256.43 593.17 258.43 590.5 260.1 588.1C261.77 585.7 263.08 582.62 264.1 580.1C265.12 577.58 265.85 574.18 266.2 573L266.2 560.4H328" stroke="#ff3c3c" stroke-width="1.35" stroke-dasharray="12.7,3.1"/>
<line x1="28.9" y1="714" x2="28.9" y2="597" stroke="#ff3c3c" stroke-width="1.3"/>
<path d="M28.9 714V696.27L28.64 696.27L31.76 696.27L31.76 694.2L34.72 694.2L34.72 691.86L37.53 691.86L37.53 689.38L40.2 689.38L40.2 686.87L42.75 686.87L42.75 684.29L45.18 684.29L45.18 681.57L47.51 681.57L47.51 678.9L49.74 678.9L49.74 676.5L51.89 676.5L51.89 674.18L53.95 674.18L53.95 671.61L55.94 671.61L55.94 668.65L57.86 668.65L57.86 665.66L59.72 665.66L59.72 662.78L61.51 662.78L62.8 659.3C68.97 651.82 71.67 649.63 72.8 648.9C73.93 648.17 74.23 648.22 75 648C75.77 647.78 76.4 647.4 77.4 647.6C78.4 647.8 79.8 649.07 81 649.2C82.2 649.33 83.05 648.53 84.6 648.4C86.15 648.27 88.68 647.93 90.3 648.4C91.92 648.87 92.83 650.12 94.3 651.2C95.77 652.28 97.37 653.55 99.1 654.9C100.83 656.25 102.97 657.7 104.7 659.3C106.43 660.9 107.88 663.1 109.5 664.5C111.12 665.9 112.65 666.77 114.4 667.7C116.15 668.63 118.27 669.57 120 670.1C121.73 670.63 122.68 670.85 124.8 670.9C126.92 670.95 130.1 670.48 132.7 670.4C135.3 670.32 138.25 670.2 140.4 670.4C142.55 670.6 143.88 670.53 145.6 671.6C147.32 672.67 148.98 674.87 150.7 676.8C152.42 678.73 154.18 681.17 155.9 683.2C157.62 685.23 159.07 687.48 161 689C162.93 690.52 165.45 691.43 167.5 692.3C169.55 693.17 171.37 694.1 173.3 694.2C175.23 694.3 177.48 693.37 179.1 692.9C180.72 692.43 181.27 692.15 183 691.4C184.73 690.65 187.35 689.12 189.5 688.4C191.65 687.68 193.62 687.23 195.9 687.1C198.18 686.97 201.18 686.58 203.2 687.6C205.22 688.62 206.4 690.65 208 693.2C209.6 695.75 211.05 700.07 212.8 702.9C214.55 705.73 216.48 708.48 218.5 710.2C220.52 711.92 222.65 712.58 224.9 713.2C227.15 713.82 229.48 713.77 232 713.9C234.52 714.03 238.67 713.98 240 714H328" stroke="#6a14b0" stroke-width="1.4"/>
<path d="M28.9 714V692.66L28.64 692.66L31.76 692.66L31.76 691.1L34.72 691.1L34.72 688.29L37.53 688.29L37.53 685.65L40.2 685.65L40.2 683.63L42.75 683.63L42.75 681.73L45.18 681.73L45.18 679.96L47.51 679.96L47.51 678.13L49.74 678.13L49.74 676.12L51.89 676.12L51.89 673.99L53.95 673.99L53.95 671.74L55.94 671.74L55.94 669.23L57.86 669.23L57.86 666.82L59.72 666.82L59.72 664.76L61.51 664.76L62.8 662.4C68.97 655.1 71.67 653.47 72.8 653.1C73.93 652.73 74.13 653.22 75 653.3C75.87 653.38 77.07 653.67 78 653.6C78.93 653.53 79.37 653.43 80.6 652.9C81.83 652.37 83.78 651.08 85.4 650.4C87.02 649.72 88.95 648.87 90.3 648.8C91.65 648.73 92.3 649.32 93.5 650C94.7 650.68 96.03 651.95 97.5 652.9C98.97 653.85 100.7 654.57 102.3 655.7C103.9 656.83 105.48 658.43 107.1 659.7C108.72 660.97 110.38 662.37 112 663.3C113.62 664.23 115.07 664.7 116.8 665.3C118.53 665.9 120.8 666.67 122.4 666.9C124 667.13 125.1 666.98 126.4 666.7C127.7 666.42 128.28 666.42 130.2 665.2C132.12 663.98 135.43 661.33 137.9 659.4C140.37 657.47 143.82 654.57 145 653.6C145.85 655.32 148.28 660.25 150.1 663.9C151.92 667.55 154.08 671.85 155.9 675.5C157.72 679.15 159.28 683.65 161 685.8C162.72 687.95 164.15 687.65 166.2 688.4C168.25 689.15 171.15 690.62 173.3 690.3C175.45 689.98 177.48 687.77 179.1 686.5C180.72 685.23 181.55 684.8 183 682.7C184.45 680.6 186.18 676.85 187.8 673.9C189.42 670.95 191.35 666.75 192.7 665C194.05 663.25 194.57 662.73 195.9 663.4C197.23 664.07 199.08 665.65 200.7 669C202.32 672.35 203.98 678.92 205.6 683.5C207.22 688.08 208.78 692.73 210.4 696.5C212.02 700.27 213.42 703.55 215.3 706.1C217.18 708.65 219.02 710.5 221.7 711.8C224.38 713.1 228.35 713.53 231.4 713.9C234.45 714.27 238.57 713.98 240 714H328" stroke="#6b3a10" stroke-width="1.45"/>
</g>
<path d="M37.53 714v-2.8M37.53 514.5v2.8M59.72 714v-2.8M59.72 514.5v2.8M75.46 714v-2.8M75.46 514.5v2.8M87.67 714v-2.8M87.67 514.5v2.8M97.65 714v-2.8M97.65 514.5v2.8M106.08 714v-2.8M106.08 514.5v2.8M113.39 714v-2.8M113.39 514.5v2.8M119.83 714v-2.8M119.83 514.5v2.8M125.6 714v-5.5M125.6 514.5v5.5M163.53 714v-2.8M163.53 514.5v2.8M185.72 714v-2.8M185.72 514.5v2.8M201.46 714v-2.8M201.46 514.5v2.8M213.67 714v-2.8M213.67 514.5v2.8M223.65 714v-2.8M223.65 514.5v2.8M232.08 714v-2.8M232.08 514.5v2.8M239.39 714v-2.8M239.39 514.5v2.8M245.83 714v-2.8M245.83 514.5v2.8M251.6 714v-5.5M251.6 514.5v5.5M289.53 714v-2.8M289.53 514.5v2.8M311.72 714v-2.8M311.72 514.5v2.8M327.46 714v-2.8M327.46 514.5v2.8M28.6 706.32h4.3M327.4 706.32h-4.3M28.6 698.64h4.3M327.4 698.64h-4.3M28.6 690.96h4.3M327.4 690.96h-4.3M28.6 683.28h8.8M327.4 683.28h-8.8M28.6 675.6h4.3M327.4 675.6h-4.3M28.6 667.92h4.3M327.4 667.92h-4.3M28.6 660.24h4.3M327.4 660.24h-4.3M28.6 652.56h8.8M327.4 652.56h-8.8M28.6 644.88h4.3M327.4 644.88h-4.3M28.6 637.2h4.3M327.4 637.2h-4.3M28.6 629.52h4.3M327.4 629.52h-4.3M28.6 621.84h8.8M327.4 621.84h-8.8M28.6 614.16h4.3M327.4 614.16h-4.3M28.6 606.48h4.3M327.4 606.48h-4.3M28.6 598.8h4.3M327.4 598.8h-4.3M28.6 591.12h8.8M327.4 591.12h-8.8M28.6 583.44h4.3M327.4 583.44h-4.3M28.6 575.76h4.3M327.4 575.76h-4.3M28.6 568.08h4.3M327.4 568.08h-4.3M28.6 560.4h8.8M327.4 560.4h-8.8M28.6 552.72h4.3M327.4 552.72h-4.3M28.6 545.04h4.3M327.4 545.04h-4.3M28.6 537.36h4.3M327.4 537.36h-4.3M28.6 529.68h8.8M327.4 529.68h-8.8M28.6 522h4.3M327.4 522h-4.3" stroke="#2a2a2a" stroke-width="1" fill="none"/>
<rect x="28.6" y="514.5" width="298.8" height="199.5" fill="none" stroke="#2a2a2a" stroke-width="1.15"/>
<text x="13.15" y="532.98" font-size="9.4" fill="#000" textLength="13.85" lengthAdjust="spacingAndGlyphs">1.2</text>
<text x="23.8" y="563.7" font-size="9.4" fill="#000" textLength="2.94" lengthAdjust="spacingAndGlyphs">1</text>
<text x="13.52" y="594.42" font-size="9.4" fill="#000" textLength="13.37" lengthAdjust="spacingAndGlyphs">0.8</text>
<text x="13.52" y="625.14" font-size="9.4" fill="#000" textLength="13.37" lengthAdjust="spacingAndGlyphs">0.6</text>
<text x="13.52" y="655.86" font-size="9.4" fill="#000" textLength="13.27" lengthAdjust="spacingAndGlyphs">0.4</text>
<text x="13.51" y="686.58" font-size="9.4" fill="#000" textLength="13.47" lengthAdjust="spacingAndGlyphs">0.2</text>
<text x="21.62" y="717.3" font-size="9.4" fill="#000" textLength="5.21" lengthAdjust="spacingAndGlyphs">0</text>
<text x="31.92" y="726.8" font-size="9.6" fill="#000" textLength="11.29" lengthAdjust="spacingAndGlyphs">20</text>
<text x="54.22" y="726.8" font-size="9.6" fill="#000" textLength="11.18" lengthAdjust="spacingAndGlyphs">30</text>
<text x="70.16" y="726.8" font-size="9.6" fill="#000" textLength="10.97" lengthAdjust="spacingAndGlyphs">40</text>
<text x="117.4" y="726.8" font-size="9.6" fill="#000" textLength="10.34" lengthAdjust="spacingAndGlyphs">10</text><text x="127.65" y="722.2" font-size="6.6" fill="#000" textLength="3.91" lengthAdjust="spacingAndGlyphs">2</text>
<text x="150.26" y="726.8" font-size="9.6" fill="#000" textLength="5.98" lengthAdjust="spacingAndGlyphs">2</text><path d="M155.96 721.8L161.17 726.5M161.17 721.8L155.96 726.5" stroke="#000" stroke-width="0.7" fill="none"/><text x="161.59" y="726.8" font-size="9.6" fill="#000" textLength="9.74" lengthAdjust="spacingAndGlyphs">10</text><text x="171.25" y="722.2" font-size="6.6" fill="#000" textLength="3.91" lengthAdjust="spacingAndGlyphs">2</text>
<text x="243.94" y="726.8" font-size="9.6" fill="#000" textLength="9.79" lengthAdjust="spacingAndGlyphs">10</text><text x="253.71" y="722.2" font-size="6.6" fill="#000" textLength="3.98" lengthAdjust="spacingAndGlyphs">3</text>
<text x="275.84" y="726.8" font-size="9.6" fill="#000" textLength="6.27" lengthAdjust="spacingAndGlyphs">2</text><path d="M281.81 721.8L287.28 726.5M287.28 721.8L281.81 726.5" stroke="#000" stroke-width="0.7" fill="none"/><text x="287.72" y="726.8" font-size="9.6" fill="#000" textLength="10.22" lengthAdjust="spacingAndGlyphs">10</text><text x="297.73" y="722.2" font-size="6.6" fill="#000" textLength="3.75" lengthAdjust="spacingAndGlyphs">3</text>
<text x="282.01" y="740.8" font-size="10.3" fill="#000" textLength="6.8" lengthAdjust="spacingAndGlyphs">p</text>
<text x="289.17" y="734.6" font-size="7.4" fill="#000" textLength="7.37" lengthAdjust="spacingAndGlyphs">jet</text>
<text x="288.87" y="745.6" font-size="7.4" fill="#000" textLength="4.07" lengthAdjust="spacingAndGlyphs">T</text>
<text x="299.02" y="740.8" font-size="10.3" fill="#000" textLength="28.37" lengthAdjust="spacingAndGlyphs">[GeV]</text>
<g transform="translate(8.3,640.4) rotate(-90)"><text x="-0.87" y="0" font-size="9.4" fill="#000" textLength="127.55" lengthAdjust="spacingAndGlyphs">Relative weight in average</text></g>
<path d="M40.3 525.2 L41.1 524.5 L42.4 531.4 L44.4 521.3 L50.9 521.3" fill="none" stroke="#000" stroke-width="0.9"/>
<text x="45.24" y="530.9" font-size="11" fill="#000" font-style="italic" textLength="5.79" lengthAdjust="spacingAndGlyphs">s</text>
<text x="54.29" y="530.9" font-size="11" fill="#000" textLength="7.1" lengthAdjust="spacingAndGlyphs">=</text>
<text x="64.49" y="531" font-size="11" fill="#000" textLength="116.38" lengthAdjust="spacingAndGlyphs">13 TeV, Data 2015-18</text>
<text x="42.44" y="547.9" font-size="11" fill="#000" textLength="22.49" lengthAdjust="spacingAndGlyphs">anti-</text>
<text x="64.84" y="547.9" font-size="11" fill="#000" font-style="italic" textLength="5.33" lengthAdjust="spacingAndGlyphs">k</text>
<text x="71.52" y="551.1" font-size="8.2" fill="#000" font-style="italic" textLength="2.98" lengthAdjust="spacingAndGlyphs">t</text>
<text x="79.58" y="547.9" font-size="11" fill="#000" font-style="italic" textLength="7.66" lengthAdjust="spacingAndGlyphs">R</text>
<text x="91.61" y="547.9" font-size="11" fill="#000" textLength="127.68" lengthAdjust="spacingAndGlyphs">= 0.4, EM+JES, |η| &lt; 0.8</text>
<text x="265.19" y="532.2" font-size="13.3" fill="#000" font-style="italic" font-weight="bold" textLength="46.61" lengthAdjust="spacingAndGlyphs">ATLAS</text>
<line x1="50.5" y1="561.9" x2="82.9" y2="561.9" stroke="#6a70f0" stroke-width="1.6"/>
<line x1="50.5" y1="576.6" x2="82.9" y2="576.6" stroke="#ff4646" stroke-width="1.5" stroke-dasharray="12.7,3.1"/>
<line x1="50.5" y1="590.6" x2="82.9" y2="590.6" stroke="#7a22b8" stroke-width="1.3"/>
<line x1="50.5" y1="605.1" x2="82.9" y2="605.1" stroke="#a07a55" stroke-width="1.8"/>
<text x="90.05" y="564.7" font-size="9.1" fill="#000" textLength="4.69" lengthAdjust="spacingAndGlyphs">γ</text>
<text x="96.27" y="564.7" font-size="9.1" fill="#000" textLength="20.52" lengthAdjust="spacingAndGlyphs">+ jet</text>
<text x="89.8" y="579.5" font-size="9.1" fill="#000" textLength="15.01" lengthAdjust="spacingAndGlyphs">E/p</text>
<text x="89.82" y="593.8" font-size="9.1" fill="#000" textLength="8.87" lengthAdjust="spacingAndGlyphs">Z(</text>
<path d="M99.3 590.8H108.4 M106.3 589.1L109 590.8L106.3 592.5" fill="none" stroke="#000" stroke-width="0.8"/>
<text x="89.82" y="608.1" font-size="9.1" fill="#000" textLength="8.87" lengthAdjust="spacingAndGlyphs">Z(</text>
<path d="M99.3 605.1H108.4 M106.3 603.4L109 605.1L106.3 606.8" fill="none" stroke="#000" stroke-width="0.8"/>
<text x="111.71" y="593.8" font-size="9.1" fill="#000" textLength="35.15" lengthAdjust="spacingAndGlyphs">ee) + jet</text>
<text x="111.77" y="608.1" font-size="9.1" fill="#000" textLength="35.79" lengthAdjust="spacingAndGlyphs">μμ) + jet</text>
<text x="147.46" y="773.3" font-size="16" fill="#000" font-family="Liberation Serif" textLength="19.11" lengthAdjust="spacingAndGlyphs">(b)</text>
<line x1="386.2" y1="616.2" x2="684.5" y2="616.2" stroke="#b4b4b4" stroke-width="1.1" stroke-dasharray="2.2,1.7"/>
<clipPath id="cc"><rect x="386.2" y="501.4" width="299.3" height="214.4"/></clipPath>
<g clip-path="url(#cc)"><path d="M386.3 681C386.67 681.25 387.8 681.97 388.5 682.5C389.2 683.03 389.65 684.93 390.5 684.2C391.35 683.47 392.58 680.35 393.6 678.1C394.62 675.85 395.7 672.47 396.6 670.7C397.5 668.93 398.23 668.42 399 667.5C399.77 666.58 400.83 665.58 401.2 665.2L401.2 665.2L401.2 665.2C401.57 663.17 402.63 657.48 403.4 653C404.17 648.52 404.98 642.08 405.8 638.3C406.62 634.52 407.23 632.45 408.3 630.3C409.37 628.15 411.55 626.22 412.2 625.4L412.2 625.4C412.57 628.37 413.67 635.13 414.4 643.2C415.13 651.27 415.98 666.77 416.6 673.8C417.22 680.83 417.45 682.85 418.1 685.4C418.75 687.95 419.68 688.78 420.5 689.1C421.32 689.42 421.87 688.73 423 687.3C424.13 685.87 426.18 681.52 427.3 680.5C428.42 679.48 428.68 681.3 429.7 681.2C430.72 681.1 432.38 679.8 433.4 679.9C434.42 680 434.68 679.75 435.8 681.8C436.92 683.85 439.07 690.07 440.1 692.2C441.13 694.33 441.18 693.48 442 694.6C442.82 695.72 443.98 697.87 445 698.9C446.02 699.93 447.18 700.7 448.1 700.8C449.02 700.9 449.68 700.73 450.5 699.5C451.32 698.27 451.97 697.07 453 693.4C454.03 689.73 455.42 681.98 456.7 677.5C457.98 673.02 460.03 668.33 460.7 666.5L460.7 666.5C461.12 667.7 462.35 671.85 463.2 673.7C464.05 675.55 464.93 678.23 465.8 677.6C466.67 676.97 467.53 674.2 468.4 669.9C469.27 665.6 470.15 657.82 471 651.8C471.85 645.78 472.55 638.95 473.5 633.8C474.45 628.65 475.52 625.2 476.7 620.9C477.88 616.6 479.2 611.43 480.6 608C482 604.57 483.82 600.93 485.1 600.3C486.38 599.67 487.12 600.77 488.3 604.2C489.48 607.63 491.55 618.12 492.2 620.9L492.2 620.9C493.07 622.83 495.68 628.2 497.4 632.5C499.12 636.8 501 642.18 502.5 646.7C504 651.22 505.12 654.88 506.4 659.6C507.68 664.32 509.57 672.43 510.2 675L510.2 675C510.85 674.15 512.7 671.28 514.1 669.9C515.5 668.52 516.98 667.23 518.6 666.7C520.22 666.17 522.93 666.7 523.8 666.7L523.8 666.7C524.33 668.52 525.93 674.5 527 677.6C528.07 680.7 529.23 685.08 530.2 685.3C531.17 685.52 532 681.83 532.8 678.9C533.6 675.97 534.22 672.1 535 667.7C535.78 663.3 537.08 655.03 537.5 652.5L537.5 652.5C538.12 652.77 540 653.42 541.2 654.1C542.4 654.78 543.42 655.37 544.7 656.6C545.98 657.83 547.52 660.1 548.9 661.5C550.28 662.9 551.85 664.77 553 665C554.15 665.23 554.75 664.18 555.8 662.9C556.85 661.62 558.72 658.23 559.3 657.3L559.3 657.3C559.87 658.12 561.43 659.07 562.7 662.2C563.97 665.33 565.5 671.48 566.9 676.1C568.3 680.72 569.6 685.75 571.1 689.9C572.6 694.05 574.4 700.3 575.9 701C577.4 701.7 578.6 696.87 580.1 694.1C581.6 691.33 583.17 687.75 584.9 684.4C586.63 681.05 588.47 676.9 590.5 674C592.53 671.1 596 668.17 597.1 667L597.4 699.6L597.4 699.6C597.63 699.38 597.87 701.77 598.8 698.3C599.73 694.83 601.73 684.35 603 678.8C604.27 673.25 605.3 668.35 606.4 665C607.5 661.65 608.55 658.7 609.6 658.7C610.65 658.7 611.73 661.18 612.7 665C613.67 668.82 614.45 673.85 615.4 681.6C616.35 689.35 617.9 706.52 618.4 711.5L618.6 712.8L621 688.5L623.5 665L623.6 711L685 711" fill="none" stroke="#1b1bb0" stroke-width="1.45" stroke-linejoin="round"/></g>
<path d="M394.8 710.8v-2.8M394.8 501.4v2.8M416.97 710.8v-2.8M416.97 501.4v2.8M432.7 710.8v-2.8M432.7 501.4v2.8M444.9 710.8v-2.8M444.9 501.4v2.8M454.87 710.8v-2.8M454.87 501.4v2.8M463.3 710.8v-2.8M463.3 501.4v2.8M470.6 710.8v-2.8M470.6 501.4v2.8M477.04 710.8v-2.8M477.04 501.4v2.8M482.8 710.8v-5.5M482.8 501.4v5.5M520.7 710.8v-2.8M520.7 501.4v2.8M542.87 710.8v-2.8M542.87 501.4v2.8M558.6 710.8v-2.8M558.6 501.4v2.8M570.8 710.8v-2.8M570.8 501.4v2.8M580.77 710.8v-2.8M580.77 501.4v2.8M589.2 710.8v-2.8M589.2 501.4v2.8M596.5 710.8v-2.8M596.5 501.4v2.8M602.94 710.8v-2.8M602.94 501.4v2.8M608.7 710.8v-5.5M608.7 501.4v5.5M646.6 710.8v-2.8M646.6 501.4v2.8M668.77 710.8v-2.8M668.77 501.4v2.8M684.5 710.8v-2.8M684.5 501.4v2.8M386.2 706.04h4.4M684.5 706.04h-4.4M386.2 701.28h4.4M684.5 701.28h-4.4M386.2 696.52h4.4M684.5 696.52h-4.4M386.2 691.76h8.8M684.5 691.76h-8.8M386.2 687h4.4M684.5 687h-4.4M386.2 682.24h4.4M684.5 682.24h-4.4M386.2 677.48h4.4M684.5 677.48h-4.4M386.2 672.72h8.8M684.5 672.72h-8.8M386.2 667.96h4.4M684.5 667.96h-4.4M386.2 663.2h4.4M684.5 663.2h-4.4M386.2 658.44h4.4M684.5 658.44h-4.4M386.2 653.68h8.8M684.5 653.68h-8.8M386.2 648.92h4.4M684.5 648.92h-4.4M386.2 644.16h4.4M684.5 644.16h-4.4M386.2 639.4h4.4M684.5 639.4h-4.4M386.2 634.64h8.8M684.5 634.64h-8.8M386.2 629.88h4.4M684.5 629.88h-4.4M386.2 625.12h4.4M684.5 625.12h-4.4M386.2 620.36h4.4M684.5 620.36h-4.4M386.2 615.6h8.8M684.5 615.6h-8.8M386.2 610.84h4.4M684.5 610.84h-4.4M386.2 606.08h4.4M684.5 606.08h-4.4M386.2 601.32h4.4M684.5 601.32h-4.4M386.2 596.56h8.8M684.5 596.56h-8.8M386.2 591.8h4.4M684.5 591.8h-4.4M386.2 587.04h4.4M684.5 587.04h-4.4M386.2 582.28h4.4M684.5 582.28h-4.4M386.2 577.52h8.8M684.5 577.52h-8.8M386.2 572.76h4.4M684.5 572.76h-4.4M386.2 568h4.4M684.5 568h-4.4M386.2 563.24h4.4M684.5 563.24h-4.4M386.2 558.48h8.8M684.5 558.48h-8.8M386.2 553.72h4.4M684.5 553.72h-4.4M386.2 548.96h4.4M684.5 548.96h-4.4M386.2 544.2h4.4M684.5 544.2h-4.4M386.2 539.44h8.8M684.5 539.44h-8.8M386.2 534.68h4.4M684.5 534.68h-4.4M386.2 529.92h4.4M684.5 529.92h-4.4M386.2 525.16h4.4M684.5 525.16h-4.4M386.2 520.4h8.8M684.5 520.4h-8.8M386.2 515.64h4.4M684.5 515.64h-4.4M386.2 510.88h4.4M684.5 510.88h-4.4M386.2 506.12h4.4M684.5 506.12h-4.4" stroke="#2a2a2a" stroke-width="1" fill="none"/>
<rect x="386.2" y="501.4" width="298.3" height="209.4" fill="none" stroke="#2a2a2a" stroke-width="1.15"/>
<text x="377.99" y="713.9" font-size="8.7" fill="#000" textLength="5.68" lengthAdjust="spacingAndGlyphs">0</text>
<text x="370.52" y="694.86" font-size="8.7" fill="#000" textLength="13.26" lengthAdjust="spacingAndGlyphs">0.2</text>
<text x="370.52" y="675.82" font-size="8.7" fill="#000" textLength="13.06" lengthAdjust="spacingAndGlyphs">0.4</text>
<text x="370.52" y="656.78" font-size="8.7" fill="#000" textLength="13.16" lengthAdjust="spacingAndGlyphs">0.6</text>
<text x="370.52" y="637.74" font-size="8.7" fill="#000" textLength="13.16" lengthAdjust="spacingAndGlyphs">0.8</text>
<text x="377.56" y="618.7" font-size="8.7" fill="#000" textLength="6.26" lengthAdjust="spacingAndGlyphs">1</text>
<text x="370.16" y="599.66" font-size="8.7" fill="#000" textLength="13.63" lengthAdjust="spacingAndGlyphs">1.2</text>
<text x="370.18" y="580.62" font-size="8.7" fill="#000" textLength="13.41" lengthAdjust="spacingAndGlyphs">1.4</text>
<text x="370.17" y="561.58" font-size="8.7" fill="#000" textLength="13.52" lengthAdjust="spacingAndGlyphs">1.6</text>
<text x="370.17" y="542.54" font-size="8.7" fill="#000" textLength="13.52" lengthAdjust="spacingAndGlyphs">1.8</text>
<text x="377.86" y="523.5" font-size="8.7" fill="#000" textLength="5.99" lengthAdjust="spacingAndGlyphs">2</text>
<text x="370.42" y="504.46" font-size="8.7" fill="#000" textLength="13.36" lengthAdjust="spacingAndGlyphs">2.2</text>
<text x="389.31" y="724.4" font-size="9.2" fill="#000" textLength="10.96" lengthAdjust="spacingAndGlyphs">20</text>
<text x="411.58" y="724.4" font-size="9.2" fill="#000" textLength="10.85" lengthAdjust="spacingAndGlyphs">30</text>
<text x="427.51" y="724.4" font-size="9.2" fill="#000" textLength="10.65" lengthAdjust="spacingAndGlyphs">40</text>
<text x="475.13" y="724.4" font-size="9.2" fill="#000" textLength="9.9" lengthAdjust="spacingAndGlyphs">10</text><text x="485.03" y="720" font-size="6.4" fill="#000" textLength="4.16" lengthAdjust="spacingAndGlyphs">2</text>
<text x="507.68" y="724.4" font-size="9.2" fill="#000" textLength="5.8" lengthAdjust="spacingAndGlyphs">2</text><path d="M513.2 719.6L518.26 724.1M518.26 719.6L513.2 724.1" stroke="#000" stroke-width="0.7" fill="none"/><text x="518.67" y="724.4" font-size="9.2" fill="#000" textLength="9.45" lengthAdjust="spacingAndGlyphs">10</text><text x="528.03" y="720" font-size="6.4" fill="#000" textLength="4.16" lengthAdjust="spacingAndGlyphs">2</text>
<text x="601.52" y="724.4" font-size="9.2" fill="#000" textLength="10.12" lengthAdjust="spacingAndGlyphs">10</text><text x="611.69" y="720" font-size="6.4" fill="#000" textLength="4.33" lengthAdjust="spacingAndGlyphs">3</text>
<text x="633.35" y="724.4" font-size="9.2" fill="#000" textLength="6.12" lengthAdjust="spacingAndGlyphs">2</text><path d="M639.19 719.6L644.53 724.1M644.53 719.6L639.19 724.1" stroke="#000" stroke-width="0.7" fill="none"/><text x="644.95" y="724.4" font-size="9.2" fill="#000" textLength="9.98" lengthAdjust="spacingAndGlyphs">10</text><text x="654.71" y="720" font-size="6.4" fill="#000" textLength="3.98" lengthAdjust="spacingAndGlyphs">3</text>
<text x="638.89" y="737.8" font-size="10.3" fill="#000" textLength="6.92" lengthAdjust="spacingAndGlyphs">p</text>
<text x="646.37" y="731.9" font-size="7.4" fill="#000" textLength="7.27" lengthAdjust="spacingAndGlyphs">jet</text>
<text x="645.87" y="743.2" font-size="7.4" fill="#000" textLength="4.07" lengthAdjust="spacingAndGlyphs">T</text>
<text x="656.52" y="737.8" font-size="10.3" fill="#000" textLength="28.58" lengthAdjust="spacingAndGlyphs">[GeV]</text>
<g transform="translate(363.5,542.6) rotate(-90)"><path d="M0.8 -2.6 L1.7 -3.3 L2.9 3.1 L5.3 -10.9 L41.4 -10.9" fill="none" stroke="#000" stroke-width="0.95"/><text x="5.29" y="0" font-size="9.6" fill="#000" textLength="5.98" lengthAdjust="spacingAndGlyphs">χ</text><text x="11.09" y="-3.9" font-size="6.2" fill="#000" textLength="3.42" lengthAdjust="spacingAndGlyphs">2</text><text x="14.4" y="0" font-size="9.4" fill="#000" textLength="27" lengthAdjust="spacingAndGlyphs">/Ndof</text></g>
<path d="M401.2 512.6 L402.1 511.9 L403.3 519.8 L405.3 507.3 L414.1 507.3" fill="none" stroke="#000" stroke-width="1.0"/>
<text x="407.03" y="519.6" font-size="12.6" fill="#000" font-style="italic" textLength="6.95" lengthAdjust="spacingAndGlyphs">s</text>
<text x="418.09" y="519.6" font-size="12.6" fill="#000" textLength="8.31" lengthAdjust="spacingAndGlyphs">=</text>
<text x="430.14" y="519.6" font-size="12.6" fill="#000" textLength="135.61" lengthAdjust="spacingAndGlyphs">13 TeV, Data 2015-18</text>
<text x="400.06" y="538.7" font-size="12.6" fill="#000" textLength="26.36" lengthAdjust="spacingAndGlyphs">anti-</text>
<text x="426.79" y="538.7" font-size="12.6" fill="#000" font-style="italic" textLength="6.95" lengthAdjust="spacingAndGlyphs">k</text>
<text x="434.37" y="541.9" font-size="9.4" fill="#000" font-style="italic" textLength="3.29" lengthAdjust="spacingAndGlyphs">t</text>
<text x="443.19" y="538.7" font-size="12.6" fill="#000" font-style="italic" textLength="9.96" lengthAdjust="spacingAndGlyphs">R</text>
<text x="457.31" y="538.7" font-size="12.6" fill="#000" textLength="149.76" lengthAdjust="spacingAndGlyphs">= 0.4, EM+JES, |η| &lt; 0.8</text>
<text x="618.14" y="521.9" font-size="16.9" fill="#000" font-style="italic" font-weight="bold" textLength="56" lengthAdjust="spacingAndGlyphs">ATLAS</text>
<text x="505.48" y="773.2" font-size="16" fill="#000" font-family="Liberation Serif" textLength="17.85" lengthAdjust="spacingAndGlyphs">(c)</text>
</svg></body></html>
